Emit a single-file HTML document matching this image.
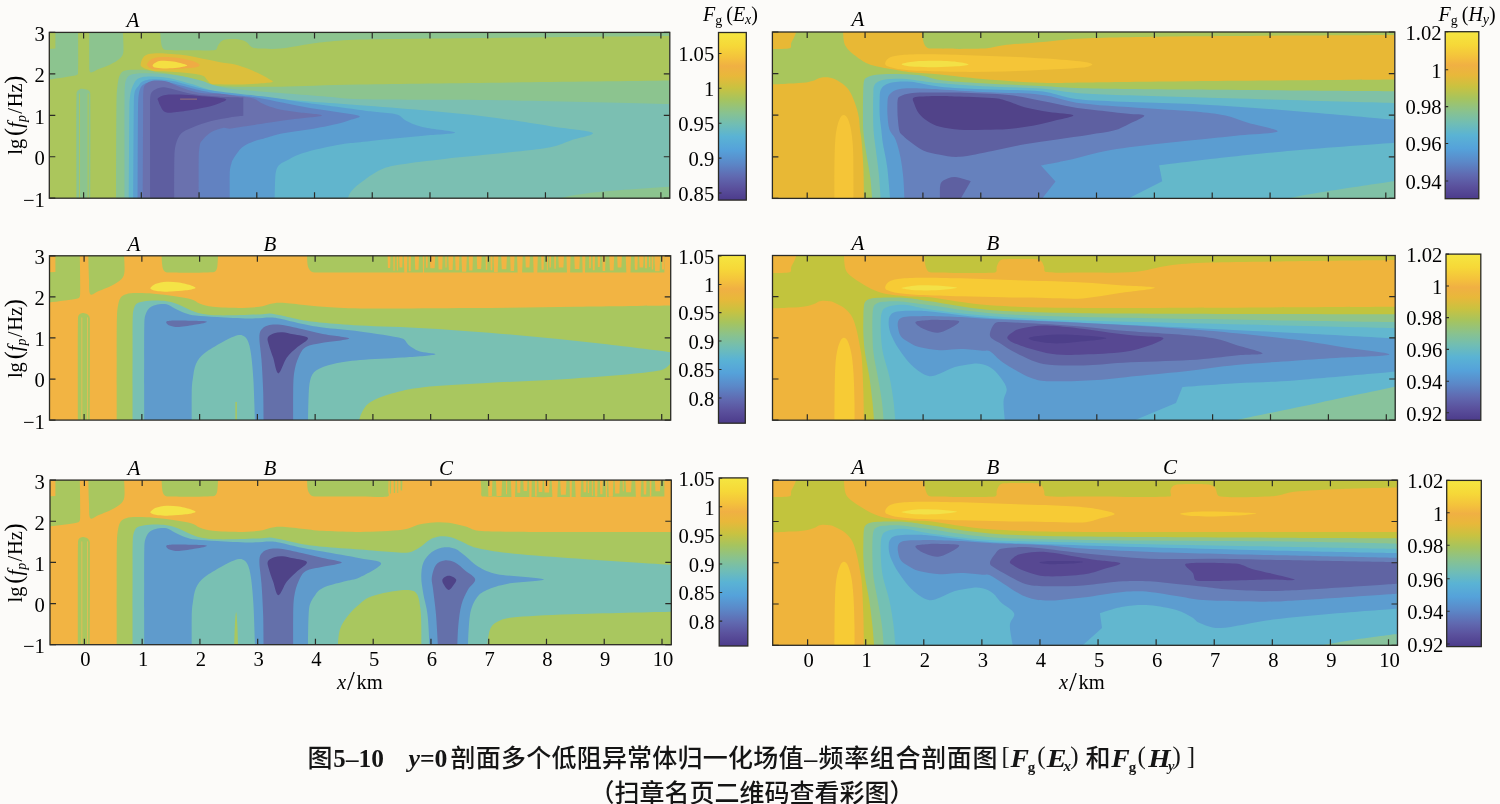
<!DOCTYPE html>
<html><head><meta charset="utf-8"><title>Figure 5-10</title>
<style>
html,body{margin:0;padding:0;background:#fcfbf9;}
body{width:1500px;height:804px;overflow:hidden;position:relative;}
svg{position:absolute;left:0;top:0;display:block;will-change:transform;}
</style></head><body>
<svg width="1500" height="804" viewBox="0 0 1500 804" font-family="'Liberation Serif', 'Times New Roman', serif">
<defs><linearGradient id="cbar" x1="0" y1="0" x2="0" y2="1"><stop offset="0.00" stop-color="#f5e640"/><stop offset="0.08" stop-color="#f6d838"/><stop offset="0.15" stop-color="#f4c23c"/><stop offset="0.20" stop-color="#f0b043"/><stop offset="0.26" stop-color="#e8b83a"/><stop offset="0.33" stop-color="#c9c240"/><stop offset="0.40" stop-color="#a6c45e"/><stop offset="0.48" stop-color="#88c290"/><stop offset="0.55" stop-color="#70bdb5"/><stop offset="0.62" stop-color="#5ab3d4"/><stop offset="0.70" stop-color="#55a2da"/><stop offset="0.78" stop-color="#5b88c8"/><stop offset="0.86" stop-color="#6069b0"/><stop offset="0.93" stop-color="#5a509c"/><stop offset="1.00" stop-color="#4c3b8b"/></linearGradient></defs>
<clipPath id="c_r1l"><rect x="49.30" y="32.40" width="620.50" height="165.80"/></clipPath>
<g clip-path="url(#c_r1l)">
<rect x="49.30" y="32.40" width="620.50" height="165.80" fill="#abc65c"/>
<g transform="translate(48 30) scale(0.211372)">
<path d="M35 -20L142 -20C142 -20 144 165.8 142 205C141.6 212 136.9 213.6 130 215C103 220.5 -20 238 -20 238L-20 92L35 88L35 -20Z" fill="#8cc48f"/>
<path d="M195 -20L352 -20C352 -20 359 74.2 357 100C355.6 117.5 350.3 124.5 340 135C329.7 145.5 311.7 154.7 295 163C278.3 171.3 255.8 178.8 240 185C224.2 191.2 207.5 205.8 200 200C192.5 194.2 195.5 172.6 195 150C194.2 113.3 195 -20 195 -20Z" fill="#8cc48f"/>
<path d="M135 800C135 800 132.5 386.7 135 300C135.3 288.8 144.2 283.5 150 280C155.8 276.5 163.3 278.2 170 279C176.7 279.8 185 281.5 190 285C195 288.5 199.8 291.9 200 300C201.7 385.8 200 800 200 800L135 800Z" fill="#8cc48f"/>
<path d="M149 300L149 800" fill="none" stroke="#abc65c" stroke-width="5"/>
<path d="M190 300L190 800" fill="none" stroke="#abc65c" stroke-width="5"/>
<path d="M530 -20C530 -20 531.3 23.3 533 40C534.7 56.7 535.5 70.8 540 80C544.5 89.2 548.8 93.7 560 95C583.3 97.7 641.7 96 680 96C718.3 96 769.2 99 790 95C802.1 92.7 799.7 79.2 805 72C810.3 64.8 814.5 56.7 822 52C829.5 47.3 836.9 45.1 850 44C863.8 42.8 890 42.7 905 45C920 47.3 930 51.8 940 58C950 64.2 955 77 965 82C975 87 984 87.3 1000 88C1022.5 89 1066.7 90.7 1100 88C1133.3 85.3 1166.7 77 1200 72C1233.3 67 1254.8 62.4 1300 58C1346 53.5 1396.6 46.9 1476 45C1626 41.3 1946 38.8 2200 36C2454 33.2 3000 28 3000 28L3000 -20L530 -20Z" fill="#8cc48f"/>
<path d="M322 820C322 820 322.3 426.7 324 330C324.7 289.3 328.5 260.8 332 240C334.8 223.4 339.5 213 345 205C350.5 197 355.8 194.8 365 192C374.2 189.2 384.2 188.3 400 188C417.5 187.7 446.7 187.7 470 190C493.3 192.3 518.3 198.3 540 202C561.7 205.7 580 208.2 600 212C620 215.8 640 219.5 660 225C680 230.5 701.7 238.8 720 245C738.3 251.2 746.4 259 770 262C800 265.8 845 267 900 268C955 269 1010 269.6 1100 268C1196 266.3 1306.8 261.1 1476 258C1659.3 254.7 1946 251.3 2200 248C2454 244.7 3000 238 3000 238L3000 820L322 820Z" fill="#8cc48f"/>
<path d="M362 820C362 820 361.7 423.3 362 330C362.1 298.5 362.2 277 364 260C365.6 245.1 368.3 236 373 228C377.7 220 383.3 215.7 392 212C400.7 208.3 412 207.2 425 206C438 204.8 450 204.7 470 205C490 205.3 520 206.2 545 208C570 209.8 597.5 212.7 620 216C642.5 219.3 660.8 223.7 680 228C699.2 232.3 719.2 237 735 242C750.8 247 756.4 252.5 775 258C794.2 263.7 820.8 271.3 850 276C879.2 280.7 908.3 282.3 950 286C991.7 289.7 1041.7 293.3 1100 298C1158.3 302.7 1237.3 309 1300 314C1362.7 319 1396.6 326.3 1476 328C1626 331.2 1946 329 2200 333C2454 337 3000 352 3000 352L3000 820L362 820Z" fill="#7bbfb2"/>
<path d="M2330 820C2330 820 2438.3 790.3 2500 780C2561.7 769.7 2616.7 765 2700 758C2783.3 751 3000 738 3000 738L3000 820L2330 820Z" fill="#8cc48f"/>
<path d="M1413 820C1413 820 1419.5 785.8 1430 770C1440.5 754.2 1452.9 742.4 1476 725C1500.3 706.7 1542.7 675 1576 660C1609.3 645 1630.2 642.6 1676 635C1726 626.7 1792.7 619.2 1876 610C1959.3 600.8 2092.7 589.2 2176 580C2259.3 570.8 2326 564.7 2376 555C2422.5 546 2442.7 533.5 2476 522C2509.3 510.5 2592.7 497.2 2576 486C2559.3 474.8 2459.3 467.7 2376 455C2292.7 442.3 2176 422.5 2076 410C1976 397.5 1876 389 1776 380C1676 371 1563.7 362.7 1476 356C1388.3 349.3 1321 345.7 1250 340C1179 334.3 1108.3 327.7 1050 322C991.7 316.3 941.7 311 900 306C858.3 301 826.7 297 800 292C773.3 287 760 282 740 276C720 270 701.7 262.7 680 256C658.3 249.3 632.5 241.3 610 236C587.5 230.7 565 226.7 545 224C525 221.3 506.7 220.2 490 220C473.3 219.8 457 220.3 445 223C433 225.7 425.2 229.5 418 236C410.8 242.5 406.7 251.3 402 262C397.3 272.7 392.8 283.7 390 300C387.2 316.3 385.4 332.9 385 360C383.7 446.7 382 820 382 820L1413 820Z" fill="#61b5cd"/>
<path d="M1072 820C1072 820 1073.5 726.7 1075 700C1076 681.8 1077.7 670.5 1081 660C1084.3 649.5 1087.7 643.7 1095 637C1102.3 630.3 1111.3 627.2 1125 620C1139.8 612.2 1159.5 599.3 1184 590C1208.5 580.7 1237.7 572.3 1272 564C1306.3 555.7 1356 545.5 1390 540C1424 534.5 1437.3 535.1 1476 531C1515.3 526.8 1576 520.2 1626 515C1676 509.8 1726 505 1776 500C1826 495 1926 491.7 1926 485C1926 478.3 1814.3 469.2 1776 460C1738.6 451.1 1717 440 1696 430C1675 420 1673.5 407 1650 400C1626.5 393 1584 391.7 1555 388C1526 384.3 1511.5 382.6 1476 378C1433.5 372.5 1349.3 361.7 1300 355C1250.7 348.3 1221.7 344.2 1180 338C1138.3 331.8 1096.7 324 1050 318C1003.3 312 941.7 306.7 900 302C858.3 297.3 826.7 293.7 800 290C773.3 286.3 760 284.2 740 280C720 275.8 700 270.3 680 265C660 259.7 640 252.7 620 248C600 243.3 578.3 239.5 560 237C541.7 234.5 525 233.2 510 233C495 232.8 480.8 234 470 236C459.2 238 451.7 240.7 445 245C438.3 249.3 435.7 254.5 430 262C424.3 269.5 415 275.3 411 290C407 304.7 406.4 322.9 406 350C404.7 438.3 403 820 403 820L1072 820Z" fill="#5b9ed0"/>
<path d="M860 820C860 820 858.7 703.7 860 672C860.8 652.8 865 640.7 868 630C870.9 619.5 871.9 617 878 608C886.5 595.5 902.3 568.8 919 555C935.7 541.2 961.3 531.8 978 525C994.7 518.2 1000.5 518.9 1019 514C1041.5 508 1076.2 496.3 1113 489C1149.8 481.7 1197.8 477.3 1240 470C1282.2 462.7 1334.5 452.3 1366 445C1394.8 438.3 1411.2 432.3 1429 426C1446.8 419.7 1483.5 413.3 1473 407C1462.5 400.7 1404.8 394.3 1366 388C1327.2 381.7 1282.2 376.3 1240 369C1197.8 361.7 1155.2 352.3 1113 344C1070.8 335.7 1029 325.3 987 319C945 312.7 892.2 309.2 861 306C833.6 303.2 820.2 302.7 800 300C779.8 297.3 758.3 293.7 740 290C721.7 286.3 708.3 282.7 690 278C671.7 273.3 650 267 630 262C610 257 588.3 251 570 248C551.7 245 535.8 244 520 244C504.2 244 486.3 245.7 475 248C463.9 250.3 458.7 252.7 452 258C445.3 263.3 439.1 268.2 435 280C430.8 292 428 307.2 427 330C425.3 366.7 425.5 423.5 425 500C424.5 581.7 424 820 424 820L860 820Z" fill="#6282c1"/>
<path d="M713 820C713 820 712.2 645.8 713 600C713.5 575.2 715.7 557.5 718 545C719.8 535.3 720.5 532.5 727 525C735.8 514.8 753.8 494.3 771 484C788.2 473.7 815 465.8 830 463C843.8 460.4 847 467.9 861 467C876.7 466 895.6 461.4 924 457C955.5 452.2 1008 444.2 1050 438C1092 431.8 1135 425.7 1176 420C1217 414.3 1296 409.3 1296 404C1296 398.7 1211.7 393.3 1176 388C1140.3 382.7 1108.2 378.3 1082 372C1055.8 365.7 1036.8 357.8 1019 350C1001.2 342.2 990.8 330.7 975 325C959.2 319.3 943 319 924 316C905 313 881.7 309.5 861 307C840.3 304.5 819.2 302.2 800 301C780.8 299.8 761.8 301.2 746 300C730.2 298.8 718.7 296.7 705 294C691.3 291.3 677.7 288 664 284C650.3 280 635.3 274.8 623 270C610.7 265.2 601 259.5 590 255C579 250.5 568 245.7 557 243C546 240.3 535 239.3 524 239C513 238.7 500.7 238.7 491 241C481.3 243.3 472.5 246.8 466 253C459.5 259.2 453.4 265.2 452 278C449.3 302.5 450.4 345.1 450 400C449.3 490.3 448 820 448 820L713 820Z" fill="#6a71ae"/>
<path d="M597 820C597 820 596.7 646.7 598 600C598.8 572.8 599.7 558.3 605 540C610.3 521.7 617 503.2 630 490C643 476.8 659.3 470.8 683 461C706.7 451.2 742.5 438.8 772 431C801.5 423.2 834.7 418.2 860 414C885.3 409.8 924 406 924 406L924 319C924 319 893.2 318.3 880 318C866.8 317.7 860.3 317.8 845 317C829.7 316.2 807.8 314.3 788 313C768.2 311.7 747.3 311.5 726 309C704.7 306.5 680 302.2 660 298C640 293.8 623.2 288.3 606 284C588.8 279.7 570.7 273.7 557 272C543.3 270.3 534.3 271 524 274C513.7 277 501.7 283.2 495 290C488.3 296.8 485.3 302.8 484 315C482 333.3 483.1 361.7 483 400C482.8 484.2 483 820 483 820L597 820Z" fill="#5e5ea0"/>
<path d="M520 323C524.5 318.5 538.7 312 549 309C559.3 306 567 305.3 582 305C601.2 304.7 636.5 305.3 664 307C691.5 308.7 717.5 311.7 747 315C776.5 318.3 830.8 321.5 841 327C851.2 332.5 823.7 341.5 808 348C792.3 354.5 771 360.5 747 366C723 371.5 691.5 376.8 664 381C636.5 385.2 601.2 390.3 582 391C566.9 391.5 557.3 390.2 549 385C540.7 379.8 536.5 368.2 532 360C527.5 351.8 524 342.2 522 336C520.2 330.4 515.8 327.2 520 323Z" fill="#54438e"/>
<path d="M625 327L705 327" fill="none" stroke="#c4906e" stroke-width="3"/>
<path d="M438 163C438.7 155.8 442.7 140.2 449 132C455.3 123.8 463.3 117.7 476 114C488.7 110.3 507.3 110 525 110C542.7 110 559.8 112.2 582 114C604.2 115.8 632.8 117.3 658 121C683.2 124.7 707.8 131 733 136C758.2 141 783.7 146.5 809 151C834.3 155.5 861.5 157.3 885 163C908.5 168.7 929.2 176.8 950 185C970.8 193.2 994.2 204.2 1010 212C1025.8 219.8 1036.3 226.3 1045 232C1053.3 237.4 1069.5 242.5 1062 246C1054.5 249.5 1027 251 1000 253C973 255 933.3 257.3 900 258C866.7 258.7 821.5 257.7 800 257C786.9 256.6 779 257.7 771 254C763 250.3 758.3 241.3 752 235C745.7 228.7 744.5 219.8 733 216C717.3 210.8 683.2 207.2 658 204C632.8 200.8 607.3 198.5 582 197C556.7 195.5 525 196.8 506 195C488.5 193.3 478.2 189.3 468 186C457.8 182.7 450 178.8 445 175C440 171.2 437.4 169.2 438 163Z" fill="#dcbf3c"/>
<path d="M468 163C470.5 158 477.5 145.7 487 140C496.5 134.3 509.2 130.8 525 129C540.8 127.2 563 127.8 582 129C601 130.2 620 132.3 639 136C658 139.7 682.8 146 696 151C707.2 155.3 718 161.5 718 166C718 170.5 707.1 175.8 696 178C682.8 180.7 658 180.7 639 182C620 183.3 601 185.2 582 186C563 186.8 540.8 187.7 525 187C509.2 186.3 495.8 184.8 487 182C478.8 179.4 475.2 173.2 472 170C469.4 167.4 466.4 166.2 468 163Z" fill="#efab44"/>
<path d="M495 167C496.3 162.5 505.8 154.5 514 151C522.2 147.5 532.7 146.5 544 146C555.3 145.5 569.3 146.5 582 148C594.7 149.5 607.3 151.8 620 155C632.7 158.2 654.8 163.8 658 167C661.2 170.2 647.9 172 639 174C629.5 176.2 616.8 178.7 601 180C585.2 181.3 559.8 182.3 544 182C528.2 181.7 514.2 180.5 506 178C499.3 176 493.7 171.5 495 167Z" fill="#f4df42"/>
</g>
</g>
<rect x="49.30" y="32.40" width="620.50" height="165.80" fill="none" stroke="#2b2b26" stroke-width="1.3"/>
<path d="M83.60 32.40v6M83.60 198.20v-6M141.33 32.40v6M141.33 198.20v-6M199.06 32.40v6M199.06 198.20v-6M256.79 32.40v6M256.79 198.20v-6M314.52 32.40v6M314.52 198.20v-6M372.25 32.40v6M372.25 198.20v-6M429.98 32.40v6M429.98 198.20v-6M487.71 32.40v6M487.71 198.20v-6M545.44 32.40v6M545.44 198.20v-6M603.17 32.40v6M603.17 198.20v-6M660.90 32.40v6M660.90 198.20v-6M49.30 32.40h6M669.80 32.40h-6M49.30 73.85h6M669.80 73.85h-6M49.30 115.30h6M669.80 115.30h-6M49.30 156.75h6M669.80 156.75h-6M49.30 198.20h6M669.80 198.20h-6" stroke="#2b2b26" stroke-width="1.2" fill="none"/>
<clipPath id="c_r2l"><rect x="49.50" y="255.80" width="621.20" height="164.30"/></clipPath>
<g clip-path="url(#c_r2l)">
<rect x="49.50" y="255.80" width="621.20" height="164.30" fill="#f2b443"/>
<g transform="translate(48 254) scale(0.211372)">
<path d="M35 -20L150 -20C150 -20 153.7 151.7 152 190C151.5 200.5 150.2 207.5 140 210C111.3 217 -20 232 -20 232L-20 88L35 85L35 -20Z" fill="#a9c75f"/>
<path d="M190 -20L358 -20C358 -20 363.7 57 362 80C360.7 98.2 358.3 106.3 348 118C337.7 129.7 318 140.5 300 150C282 159.5 256.7 168.3 240 175C223.3 181.7 207.7 199.2 200 190C192.3 180.8 195.5 151.6 194 120C192.3 85 190 -20 190 -20Z" fill="#a9c75f"/>
<path d="M142 820C142 820 139.8 389.7 142 300C142.2 290 150 285.3 155 282C160 278.7 166.2 279 172 280C177.8 281 185.7 283.8 190 288C194.3 292.2 197.9 296.5 198 305C199.3 393.7 198 820 198 820L142 820Z" fill="#a9c75f"/>
<path d="M160 300L160 800" fill="none" stroke="#e9bd55" stroke-width="4"/>
<path d="M187 300L187 800" fill="none" stroke="#e9bd55" stroke-width="4"/>
<path d="M536 -20C536 -20 538 33.7 540 50C541.6 63 543 71.7 548 78C553 84.3 559.1 87.6 570 88C608.7 89.3 742.2 88.3 780 86C789.3 85.4 793.3 80 797 74C800.7 68 800.9 61 802 50C803.5 34.3 806 -20 806 -20L536 -20Z" fill="#a9c75f"/>
<path d="M1225 -20C1225 -20 1225.5 33.7 1228 50C1230.1 63.6 1234.3 71.8 1240 78C1245.7 84.2 1251.3 86.5 1262 87C1301.3 88.7 1379.7 87.9 1476 88C1751.7 88.2 2916 88 2916 88L2916 -20L1225 -20Z" fill="#a9c75f"/>
<path d="M1606 -20L1621.1 -20L1618.8 66.5L1608.3 66.5L1606 -20Z" fill="#f2b443"/>
<path d="M1633.2 -20L1641.2 -20L1640 79L1634.4 79L1633.2 -20Z" fill="#f2b443"/>
<path d="M1649.3 -20L1657 -20L1655.8 78L1650.5 78L1649.3 -20Z" fill="#f2b443"/>
<path d="M1660.5 -20L1678.6 -20L1675.9 63.9L1663.2 63.9L1660.5 -20Z" fill="#f2b443"/>
<path d="M1682.9 -20L1700.8 -20L1698.1 88.4L1685.6 88.4L1682.9 -20Z" fill="#f2b443"/>
<path d="M1705.5 -20L1717.8 -20L1715.9 81.9L1707.3 81.9L1705.5 -20Z" fill="#f2b443"/>
<path d="M1734 -20L1756.2 -20L1752.9 74.5L1737.4 74.5L1734 -20Z" fill="#f2b443"/>
<path d="M1772.9 -20L1780.2 -20L1779.1 89.4L1773.9 89.4L1772.9 -20Z" fill="#f2b443"/>
<path d="M1787.2 -20L1797.3 -20L1795.7 65.4L1788.7 65.4L1787.2 -20Z" fill="#f2b443"/>
<path d="M1804.6 -20L1833.4 -20L1829.1 67.5L1808.9 67.5L1804.6 -20Z" fill="#f2b443"/>
<path d="M1844.6 -20L1868.5 -20L1864.9 73.7L1848.1 73.7L1844.6 -20Z" fill="#f2b443"/>
<path d="M1879.1 -20L1886.9 -20L1885.7 63.5L1880.3 63.5L1879.1 -20Z" fill="#f2b443"/>
<path d="M1892.8 -20L1917.8 -20L1914.1 75.5L1896.5 75.5L1892.8 -20Z" fill="#f2b443"/>
<path d="M1925.2 -20L1947.6 -20L1944.2 76.3L1928.6 76.3L1925.2 -20Z" fill="#f2b443"/>
<path d="M1954.8 -20L1983 -20L1978.8 84.2L1959 84.2L1954.8 -20Z" fill="#f2b443"/>
<path d="M1989.5 -20L2011.5 -20L2008.2 78.6L1992.8 78.6L1989.5 -20Z" fill="#f2b443"/>
<path d="M2026.8 -20L2053.2 -20L2049.3 70.9L2030.8 70.9L2026.8 -20Z" fill="#f2b443"/>
<path d="M2069.9 -20L2079.3 -20L2077.9 75.1L2071.3 75.1L2069.9 -20Z" fill="#f2b443"/>
<path d="M2092.9 -20L2103.1 -20L2101.6 77.4L2094.4 77.4L2092.9 -20Z" fill="#f2b443"/>
<path d="M2106.7 -20L2131.4 -20L2127.7 86.4L2110.4 86.4L2106.7 -20Z" fill="#f2b443"/>
<path d="M2142.4 -20L2172.9 -20L2168.3 71.8L2147 71.8L2142.4 -20Z" fill="#f2b443"/>
<path d="M2185.6 -20L2208.3 -20L2204.9 80.4L2189 80.4L2185.6 -20Z" fill="#f2b443"/>
<path d="M2217.7 -20L2247.2 -20L2242.8 92.2L2222.1 92.2L2217.7 -20Z" fill="#f2b443"/>
<path d="M2256.8 -20L2281.4 -20L2277.7 63.6L2260.5 63.6L2256.8 -20Z" fill="#f2b443"/>
<path d="M2294.2 -20L2318.4 -20L2314.7 93.8L2297.9 93.8L2294.2 -20Z" fill="#f2b443"/>
<path d="M2332.9 -20L2346.8 -20L2344.7 74.1L2335 74.1L2332.9 -20Z" fill="#f2b443"/>
<path d="M2359.2 -20L2365.8 -20L2364.8 76.6L2360.2 76.6L2359.2 -20Z" fill="#f2b443"/>
<path d="M2371.2 -20L2380.5 -20L2379.1 63.5L2372.6 63.5L2371.2 -20Z" fill="#f2b443"/>
<path d="M2394.2 -20L2403.8 -20L2402.4 69.6L2395.7 69.6L2394.2 -20Z" fill="#f2b443"/>
<path d="M2412.3 -20L2442.7 -20L2438.2 64.2L2416.9 64.2L2412.3 -20Z" fill="#f2b443"/>
<path d="M2452 -20L2473.4 -20L2470.2 90.2L2455.2 90.2L2452 -20Z" fill="#f2b443"/>
<path d="M2487.9 -20L2518 -20L2513.5 70.6L2492.4 70.6L2487.9 -20Z" fill="#f2b443"/>
<path d="M2526.9 -20L2542.9 -20L2540.5 90.2L2529.3 90.2L2526.9 -20Z" fill="#f2b443"/>
<path d="M2559.3 -20L2569.5 -20L2568 67.3L2560.8 67.3L2559.3 -20Z" fill="#f2b443"/>
<path d="M2575.8 -20L2588.3 -20L2586.4 77.3L2577.7 77.3L2575.8 -20Z" fill="#f2b443"/>
<path d="M2599.6 -20L2612.9 -20L2610.9 61.7L2601.6 61.7L2599.6 -20Z" fill="#f2b443"/>
<path d="M2621.8 -20L2638.1 -20L2635.7 79.9L2624.2 79.9L2621.8 -20Z" fill="#f2b443"/>
<path d="M2654.5 -20L2679.8 -20L2676 78.3L2658.3 78.3L2654.5 -20Z" fill="#f2b443"/>
<path d="M2691.5 -20L2716.4 -20L2712.6 63.3L2695.2 63.3L2691.5 -20Z" fill="#f2b443"/>
<path d="M2732 -20L2759.8 -20L2755.6 89.9L2736.2 89.9L2732 -20Z" fill="#f2b443"/>
<path d="M2774 -20L2791 -20L2788.4 74.5L2776.5 74.5L2774 -20Z" fill="#f2b443"/>
<path d="M2795.4 -20L2819.2 -20L2815.6 63.6L2799 63.6L2795.4 -20Z" fill="#f2b443"/>
<path d="M2823.1 -20L2835 -20L2833.2 66.9L2824.9 66.9L2823.1 -20Z" fill="#f2b443"/>
<path d="M2842.7 -20L2850.2 -20L2849.1 61.6L2843.9 61.6L2842.7 -20Z" fill="#f2b443"/>
<path d="M2855.3 -20L2864.2 -20L2862.8 73.4L2856.7 73.4L2855.3 -20Z" fill="#f2b443"/>
<path d="M2867.5 -20L2898 -20L2893.4 81.5L2872.1 81.5L2867.5 -20Z" fill="#f2b443"/>
<path d="M2903.1 -20L2916.1 -20L2914.2 72.9L2905 72.9L2903.1 -20Z" fill="#f2b443"/>
<path d="M485 160C488.3 155.5 497.5 145.8 510 141C522.5 136.2 541.7 132 560 131C578.3 130 600 131.8 620 135C640 138.2 667.2 145.5 680 150C688.8 153.1 702 158.3 697 162C692 165.7 669.5 169.3 650 172C630.5 174.7 601.7 177.3 580 178C558.3 178.7 535 177.7 520 176C506.1 174.5 495.8 170.7 490 168C486.1 166.2 482.5 163.4 485 160Z" fill="#f4e346"/>
<path d="M325 820C325 820 324.8 586.7 325 500C325.2 413.3 324.8 343.3 326 300C326.7 272.9 328.8 255.8 332 240C335.2 224.2 338.7 213.3 345 205C351.3 196.7 357.5 193.3 370 190C382.5 186.7 398.3 185.3 420 185C441.7 184.7 470 185.5 500 188C530 190.5 570 195.5 600 200C630 204.5 660 209.2 680 215C699.3 220.6 703.3 229.2 720 235C736.7 240.8 752.3 246.9 780 250C810 253.3 863.3 255 900 255C936.7 255 975 253 1000 250C1023.1 247.2 1033.3 240.2 1050 237C1066.7 233.8 1077.3 230.5 1100 231C1125 231.5 1166.7 236.8 1200 240C1233.3 243.2 1254.9 247.1 1300 250C1346 253 1396.7 257.3 1476 258C1592.7 259 1829.3 257.3 2000 256C2170.7 254.7 2340 252 2500 250C2660 248 2960 244 2960 244L2960 820L325 820Z" fill="#a9c75f"/>
<path d="M400 820C400 820 399.8 588.3 400 500C400.2 411.7 399.3 332 401 290C401.8 270.7 405.2 258 410 248C414.8 238 418.7 234.4 430 230C441.7 225.5 458.3 222.2 480 221C501.7 219.8 536.7 219.8 560 223C583.3 226.2 596.7 231.3 620 240C643.3 248.7 670 266.7 700 275C730 283.3 754.5 288.3 800 290C850 291.8 958.3 287.5 1000 286C1022.6 285.2 1033.3 280.3 1050 281C1066.7 281.7 1077.6 285.4 1100 290C1125 295.2 1166.7 306.2 1200 312C1233.3 317.8 1254.8 320.7 1300 325C1346 329.3 1396.7 333.7 1476 338C1559.3 342.5 1679.3 344.7 1800 352C1920.7 359.3 2066.7 370.3 2200 382C2333.3 393.7 2473.3 408 2600 422C2726.7 436 2960 466 2960 466L2960 495C2960 495 2935.9 542.9 2900 550C2819.3 565.8 2613.3 580 2476 590C2338.7 600 2192.7 603.3 2076 610C1959.3 616.7 1851 621.7 1776 630C1707.6 637.6 1667.7 648.3 1626 660C1584.3 671.7 1549.5 685 1526 700C1502.5 715 1495.7 730 1485 750C1474.3 770 1462 820 1462 820L400 820Z" fill="#79c0b3"/>
<path d="M455 820C455 820 454.8 583.3 455 500C455.2 419 454.8 355.8 456 320C456.5 304 458 295.7 462 285C466 274.3 472 263.3 480 256C488 248.7 496.7 244 510 241C523.3 238 545 235.2 560 238C575 240.8 585 251 600 258C615 265 633.3 274.5 650 280C666.7 285.5 677.1 288.3 700 291C725 294 758.3 295.7 800 298C841.7 300.3 908.3 304.7 950 305C991.7 305.3 1025 299.8 1050 300C1072.7 300.2 1077.8 301.6 1100 306C1125 311 1166.7 323 1200 330C1233.3 337 1254.7 341.9 1300 348C1346 354.2 1413.3 358.3 1476 367C1538.7 375.7 1637.7 389.5 1676 400C1694.4 405 1692.7 420 1706 430C1719.3 440 1735.2 452.5 1756 460C1776.8 467.5 1844.3 470 1831 475C1817.7 480 1735.2 485.5 1676 490C1616.8 494.5 1530.3 497 1476 502C1421.7 507 1384.3 512 1350 520C1315.7 528 1288.3 536.7 1270 550C1251.7 563.3 1246.3 575 1240 600C1233.7 625 1233.7 663.3 1232 700C1230.3 736.7 1230 820 1230 820L455 820Z" fill="#5f9bcc"/>
<path d="M680 820C680 820 679.2 688.3 680 650C680.6 622.9 681.7 611.7 685 590C688.3 568.3 690.8 540 700 520C709.2 500 720 486.7 740 470C760 453.3 796.7 433.3 820 420C843.3 406.7 863.3 395.8 880 390C896.7 384.2 909.2 381.7 920 385C930.8 388.3 938.3 395.8 945 410C951.7 424.2 956.1 442.4 960 470C964.5 501.7 968.7 541.7 972 600C975.3 658.3 980 820 980 820L680 820Z" fill="#79c0b3"/>
<path d="M890 700L890 800" fill="none" stroke="#a9c75f" stroke-width="7"/>
<path d="M560 320C564.2 316.2 581.9 315.6 600 315C620 314.3 654.7 315.2 680 316C705.3 316.8 748.7 317 752 320C755.3 323 722 329.8 700 334C678 338.2 640.8 344.3 620 345C599.5 345.7 585 342.2 575 338C565.3 333.9 555.8 323.8 560 320Z" fill="#6470aa"/>
<path d="M1020 820C1020 820 1019.7 703.3 1018 650C1016.3 596.7 1013 541.7 1010 500C1007 458.3 1000.3 423.3 1000 400C999.7 381.6 1001.3 370.3 1008 360C1014.7 349.7 1024.7 342.2 1040 338C1055.3 333.8 1073.3 332.2 1100 335C1126.7 337.8 1166.7 347.8 1200 355C1233.3 362.2 1262.5 370.5 1300 378C1337.5 385.5 1425 393 1425 400C1425 407 1334.2 413.3 1300 420C1265.8 426.7 1239.2 428.3 1220 440C1200.8 451.7 1194.2 470 1185 490C1175.8 510 1169.2 533.3 1165 560C1160.8 586.7 1160.8 609.4 1160 650C1159.2 693.3 1160 820 1160 820L1020 820Z" fill="#6470aa"/>
<path d="M1040 395C1044.2 385.8 1058.3 379.2 1070 375C1081.7 370.8 1095 369.2 1110 370C1125 370.8 1140 375.3 1160 380C1180 384.7 1226.7 388 1230 398C1233.3 408 1196.7 424.7 1180 440C1163.3 455.3 1145 469.2 1130 490C1115 510.8 1100.8 565 1090 565C1079.2 565 1072.5 512.5 1065 490C1057.5 467.5 1049.2 445.8 1045 430C1041 414.6 1035.8 404.2 1040 395Z" fill="#4f4388"/>
</g>
</g>
<rect x="49.50" y="255.80" width="621.20" height="164.30" fill="none" stroke="#2b2b26" stroke-width="1.3"/>
<path d="M84.10 255.80v6M84.10 420.10v-6M141.86 255.80v6M141.86 420.10v-6M199.62 255.80v6M199.62 420.10v-6M257.38 255.80v6M257.38 420.10v-6M315.14 255.80v6M315.14 420.10v-6M372.90 255.80v6M372.90 420.10v-6M430.66 255.80v6M430.66 420.10v-6M488.42 255.80v6M488.42 420.10v-6M546.18 255.80v6M546.18 420.10v-6M603.94 255.80v6M603.94 420.10v-6M661.70 255.80v6M661.70 420.10v-6M49.50 255.80h6M670.70 255.80h-6M49.50 296.88h6M670.70 296.88h-6M49.50 337.95h6M670.70 337.95h-6M49.50 379.03h6M670.70 379.03h-6M49.50 420.10h6M670.70 420.10h-6" stroke="#2b2b26" stroke-width="1.2" fill="none"/>
<clipPath id="c_r3l"><rect x="50.00" y="480.10" width="621.30" height="164.60"/></clipPath>
<g clip-path="url(#c_r3l)">
<rect x="50.00" y="480.10" width="621.30" height="164.60" fill="#f2b443"/>
<g transform="translate(48 478) scale(0.211372)">
<path d="M35 -20L150 -20C150 -20 153.7 151.7 152 190C151.5 200.5 150.2 207.5 140 210C111.3 217 -20 232 -20 232L-20 88L35 85L35 -20Z" fill="#a9c75f"/>
<path d="M190 -20L358 -20C358 -20 363.7 57 362 80C360.7 98.2 358.3 106.3 348 118C337.7 129.7 318 140.5 300 150C282 159.5 256.7 168.3 240 175C223.3 181.7 207.7 199.2 200 190C192.3 180.8 195.5 151.6 194 120C192.3 85 190 -20 190 -20Z" fill="#a9c75f"/>
<path d="M142 820C142 820 139.8 389.7 142 300C142.2 290 150 285.3 155 282C160 278.7 166.2 279 172 280C177.8 281 185.7 283.8 190 288C194.3 292.2 197.9 296.5 198 305C199.3 393.7 198 820 198 820L142 820Z" fill="#a9c75f"/>
<path d="M160 300L160 800" fill="none" stroke="#e9bd55" stroke-width="4"/>
<path d="M187 300L187 800" fill="none" stroke="#e9bd55" stroke-width="4"/>
<path d="M536 -20C536 -20 538 33.7 540 50C541.6 63 543 71.7 548 78C553 84.3 559.1 87.6 570 88C608.7 89.3 742.2 88.3 780 86C789.3 85.4 793.3 80 797 74C800.7 68 800.9 61 802 50C803.5 34.3 806 -20 806 -20L536 -20Z" fill="#a9c75f"/>
<path d="M1225 -20C1225 -20 1225.5 33.7 1228 50C1230.1 63.6 1234.3 71.8 1240 78C1245.7 84.2 1251.3 86.5 1262 87C1301.3 88.7 1418.7 87.8 1476 88C1533.3 88.2 1583.7 92.7 1606 88C1618.5 85.4 1609.3 72.7 1610 60C1611 42 1612 -20 1612 -20L1225 -20Z" fill="#a9c75f"/>
<path d="M2046 -20C2046 -20 2047.7 32 2050 50C2052.3 67.5 2042.3 87.2 2060 88C2204.3 94.3 2916 88 2916 88L2916 -20L2046 -20Z" fill="#a9c75f"/>
<path d="M1616 -20L1623.6 -20L1622.5 72.8L1617.1 72.8L1616 -20Z" fill="#a9c75f"/>
<path d="M1635.1 -20L1642.8 -20L1641.7 71.2L1636.2 71.2L1635.1 -20Z" fill="#a9c75f"/>
<path d="M1651.9 -20L1657.4 -20L1656.6 71.4L1652.7 71.4L1651.9 -20Z" fill="#a9c75f"/>
<path d="M1666.8 -20L1677.2 -20L1675.6 58.8L1668.4 58.8L1666.8 -20Z" fill="#a9c75f"/>
<path d="M2080 -20L2103.4 -20L2099.9 85.6L2083.5 85.6L2080 -20Z" fill="#f2b443"/>
<path d="M2117.6 -20L2150 -20L2145.1 85.6L2122.4 85.6L2117.6 -20Z" fill="#f2b443"/>
<path d="M2165.9 -20L2172.7 -20L2171.7 76.7L2166.9 76.7L2165.9 -20Z" fill="#f2b443"/>
<path d="M2188.9 -20L2213.1 -20L2209.4 90.8L2192.5 90.8L2188.9 -20Z" fill="#f2b443"/>
<path d="M2217.7 -20L2236.8 -20L2233.9 69.6L2220.5 69.6L2217.7 -20Z" fill="#f2b443"/>
<path d="M2247.4 -20L2269.5 -20L2266.2 62L2250.7 62L2247.4 -20Z" fill="#f2b443"/>
<path d="M2275.5 -20L2289.3 -20L2287.3 91.3L2277.6 91.3L2275.5 -20Z" fill="#f2b443"/>
<path d="M2303 -20L2313.5 -20L2311.9 87.4L2304.6 87.4L2303 -20Z" fill="#f2b443"/>
<path d="M2318.5 -20L2341.7 -20L2338.3 65.7L2322 65.7L2318.5 -20Z" fill="#f2b443"/>
<path d="M2344.8 -20L2375.2 -20L2370.6 68.4L2349.3 68.4L2344.8 -20Z" fill="#f2b443"/>
<path d="M2381.2 -20L2414.7 -20L2409.7 89.9L2386.2 89.9L2381.2 -20Z" fill="#f2b443"/>
<path d="M2421.7 -20L2454.7 -20L2449.7 79.1L2426.7 79.1L2421.7 -20Z" fill="#f2b443"/>
<path d="M2467.2 -20L2478.9 -20L2477.1 92.1L2468.9 92.1L2467.2 -20Z" fill="#f2b443"/>
<path d="M2491.6 -20L2524.6 -20L2519.7 90.6L2496.5 90.6L2491.6 -20Z" fill="#f2b443"/>
<path d="M2531.8 -20L2547.9 -20L2545.5 67L2534.2 67L2531.8 -20Z" fill="#f2b443"/>
<path d="M2553 -20L2560.8 -20L2559.6 71.4L2554.1 71.4L2553 -20Z" fill="#f2b443"/>
<path d="M2572.2 -20L2578.3 -20L2577.4 83.6L2573.1 83.6L2572.2 -20Z" fill="#f2b443"/>
<path d="M2586.1 -20L2600.7 -20L2598.5 88.1L2588.3 88.1L2586.1 -20Z" fill="#f2b443"/>
<path d="M2610.5 -20L2625.3 -20L2623.1 77.2L2612.7 77.2L2610.5 -20Z" fill="#f2b443"/>
<path d="M2638.2 -20L2645.8 -20L2644.6 93.2L2639.3 93.2L2638.2 -20Z" fill="#f2b443"/>
<path d="M2649.1 -20L2676.1 -20L2672 89L2653.1 89L2649.1 -20Z" fill="#f2b443"/>
<path d="M2679.3 -20L2707.4 -20L2703.2 73.5L2683.5 73.5L2679.3 -20Z" fill="#f2b443"/>
<path d="M2718.5 -20L2724.7 -20L2723.8 63.1L2719.4 63.1L2718.5 -20Z" fill="#f2b443"/>
<path d="M2730.3 -20L2763 -20L2758.1 68L2735.2 68L2730.3 -20Z" fill="#f2b443"/>
<path d="M2776.6 -20L2808.6 -20L2803.8 92.1L2781.4 92.1L2776.6 -20Z" fill="#f2b443"/>
<path d="M2816.5 -20L2832.4 -20L2830 78.6L2818.8 78.6L2816.5 -20Z" fill="#f2b443"/>
<path d="M2846.2 -20L2855.3 -20L2853.9 85.8L2847.6 85.8L2846.2 -20Z" fill="#f2b443"/>
<path d="M2869.4 -20L2899.5 -20L2895 62.8L2873.9 62.8L2869.4 -20Z" fill="#f2b443"/>
<path d="M485 160C488.3 155.5 497.5 145.8 510 141C522.5 136.2 541.7 132 560 131C578.3 130 600 131.8 620 135C640 138.2 667.2 145.5 680 150C688.8 153.1 702 158.3 697 162C692 165.7 669.5 169.3 650 172C630.5 174.7 601.7 177.3 580 178C558.3 178.7 535 177.7 520 176C506.1 174.5 495.8 170.7 490 168C486.1 166.2 482.5 163.4 485 160Z" fill="#f4e346"/>
<path d="M325 820C325 820 324.8 586.7 325 500C325.2 413.3 324.8 343.3 326 300C326.7 272.9 328.8 255.8 332 240C335.2 224.2 338.7 213.3 345 205C351.3 196.7 357.5 193.3 370 190C382.5 186.7 398.3 185.3 420 185C441.7 184.7 470 185.5 500 188C530 190.5 570 195.5 600 200C630 204.5 660 209.2 680 215C699.3 220.6 703.3 229.2 720 235C736.7 240.8 752.3 246.9 780 250C810 253.3 863.3 255 900 255C936.7 255 975 253 1000 250C1023.1 247.2 1033.3 240.2 1050 237C1066.7 233.8 1077.3 230.5 1100 231C1125 231.5 1166.7 236.8 1200 240C1233.3 243.2 1254.8 247.5 1300 250C1346 252.5 1413.3 255.8 1476 255C1538.7 254.2 1629.3 250.8 1676 245C1713.4 240.3 1731 225.8 1756 220C1781 214.2 1802.7 211.3 1826 210C1849.3 208.7 1871 208.7 1896 212C1921 215.3 1952.7 223.7 1976 230C1999.3 236.3 2007.6 247.6 2036 250C2086 254.2 2168 254.4 2276 255C2430 255.8 2960 255 2960 255L2960 820L325 820Z" fill="#a9c75f"/>
<path d="M400 820C400 820 399.8 588.3 400 500C400.2 411.7 399.3 332 401 290C401.8 270.7 405.2 258 410 248C414.8 238 418.7 234.4 430 230C441.7 225.5 458.3 222.2 480 221C501.7 219.8 536.7 219.8 560 223C583.3 226.2 596.7 231.3 620 240C643.3 248.7 670 266.7 700 275C730 283.3 754.5 288.3 800 290C850 291.8 958.3 287.5 1000 286C1022.6 285.2 1033.3 280.3 1050 281C1066.7 281.7 1077.6 285.4 1100 290C1125 295.2 1166.7 306.2 1200 312C1233.3 317.8 1254.8 320.7 1300 325C1346 329.3 1421.7 333.8 1476 338C1530.3 342.2 1587.7 347.7 1626 350C1661.9 352.2 1684.3 355.3 1706 352C1727.7 348.7 1739.3 340 1756 330C1772.7 320 1789.3 301 1806 292C1822.7 283 1839.3 278 1856 276C1872.7 274 1889.3 276 1906 280C1922.7 284 1936 291.7 1956 300C1976 308.3 1992.8 321.7 2026 330C2062.7 339.2 2108 347.4 2176 355C2251 363.3 2345.3 370.5 2476 380C2606.7 389.5 2960 412 2960 412L2960 633C2960 633 2603.3 640.5 2476 645C2349.9 649.5 2254.3 654.2 2196 660C2163.4 663.3 2143.7 670 2126 680C2108.3 690 2098.1 697.2 2090 720C2081.7 743.3 2076 820 2076 820L400 820Z" fill="#79c0b3"/>
<path d="M455 820C455 820 454.8 583.3 455 500C455.2 419 454.8 355.8 456 320C456.5 304 458 295.7 462 285C466 274.3 472 263.3 480 256C488 248.7 496.7 244 510 241C523.3 238 545 235.2 560 238C575 240.8 585 251 600 258C615 265 633.3 274.5 650 280C666.7 285.5 677.1 288.3 700 291C725 294 758.3 295.7 800 298C841.7 300.3 908.3 304.7 950 305C991.7 305.3 1025 299.8 1050 300C1072.7 300.2 1077.8 301.6 1100 306C1125 311 1166.7 323 1200 330C1233.3 337 1255 339.8 1300 348C1346 356.3 1430 370.5 1476 380C1521.4 389.4 1576 390 1576 405C1576 420 1505.3 455.8 1476 470C1446.7 484.2 1429.3 481.7 1400 490C1370.7 498.3 1323.3 508.3 1300 520C1277.2 531.4 1270.8 543.3 1260 560C1249.2 576.7 1238.4 590.9 1235 620C1230 663.3 1230 820 1230 820L455 820Z" fill="#5f9bcc"/>
<path d="M680 820C680 820 679.2 688.3 680 650C680.6 622.9 681.7 611.7 685 590C688.3 568.3 690.8 540 700 520C709.2 500 720 486.7 740 470C760 453.3 796.7 433.3 820 420C843.3 406.7 863.3 395.8 880 390C896.7 384.2 909.2 381.7 920 385C930.8 388.3 938.3 395.8 945 410C951.7 424.2 956.1 442.4 960 470C964.5 501.7 968.7 541.7 972 600C975.3 658.3 980 820 980 820L680 820Z" fill="#79c0b3"/>
<path d="M880 820C880 820 882.3 730.8 884 700C885.6 670.7 888 635 890 635C892 635 894.4 670.7 896 700C897.7 730.8 900 820 900 820L880 820Z" fill="#a9c75f"/>
<path d="M560 320C564.2 316.2 581.9 315.6 600 315C620 314.3 654.7 315.2 680 316C705.3 316.8 748.7 317 752 320C755.3 323 722 329.8 700 334C678 338.2 640.8 344.3 620 345C599.5 345.7 585 342.2 575 338C565.3 333.9 555.8 323.8 560 320Z" fill="#6470aa"/>
<path d="M1020 820C1020 820 1019.7 703.3 1018 650C1016.3 596.7 1013 541.7 1010 500C1007 458.3 1000.3 423.3 1000 400C999.7 381.6 1001.3 370.3 1008 360C1014.7 349.7 1024.7 342.2 1040 338C1055.3 333.8 1073.3 332.2 1100 335C1126.7 337.8 1166.7 347.8 1200 355C1233.3 362.2 1268.3 370.5 1300 378C1331.7 385.5 1390 393 1390 400C1390 407 1328.3 413.3 1300 420C1271.7 426.7 1239.2 428.3 1220 440C1200.8 451.7 1194.2 470 1185 490C1175.8 510 1169.2 533.3 1165 560C1160.8 586.7 1160.8 609.4 1160 650C1159.2 693.3 1160 820 1160 820L1020 820Z" fill="#6470aa"/>
<path d="M1040 395C1044.2 385.8 1058.3 379.2 1070 375C1081.7 370.8 1095 369.2 1110 370C1125 370.8 1140.8 375.3 1160 380C1179.2 384.7 1221.7 388 1225 398C1228.3 408 1195.8 424.7 1180 440C1164.2 455.3 1145 470.8 1130 490C1115 509.2 1100.8 555 1090 555C1079.2 555 1072.5 510.8 1065 490C1057.5 469.2 1049.2 445.8 1045 430C1041 414.6 1035.8 404.2 1040 395Z" fill="#4f4388"/>
<path d="M1370 820C1370 820 1371.7 748.3 1380 720C1388.3 691.7 1404 670.8 1420 650C1436 629.2 1458.3 609.7 1476 595C1493.7 580.3 1501 571.7 1526 562C1551 552.3 1596 542.3 1626 537C1656 531.7 1686 527.8 1706 530C1726 532.2 1736.7 535 1746 550C1755.3 565 1758.7 595 1762 620C1765.3 645 1765.3 666.7 1766 700C1766.7 733.3 1766 820 1766 820L1370 820Z" fill="#a9c75f"/>
<path d="M1806 820C1806 820 1801 695 1796 650C1791 605 1781 580 1776 550C1771 520 1766 495 1766 470C1766 445 1767.7 420 1776 400C1784.3 380 1799.3 362 1816 350C1832.7 338 1857.7 330.5 1876 328C1894.3 325.5 1909.3 328 1926 335C1942.7 342 1957.7 355.8 1976 370C1994.3 384.2 2011 405.8 2036 420C2061 434.2 2083.3 446.7 2126 455C2177.7 465 2337.7 472.5 2346 480C2354.3 487.5 2221 491.7 2176 500C2131 508.3 2101 518.3 2076 530C2051 541.7 2039.3 550 2026 570C2012.7 590 2002.1 612 1996 650C1989.3 691.7 1986 820 1986 820L1806 820Z" fill="#5f9bcc"/>
<path d="M1846 820C1846 820 1840.2 700 1836 650C1831.8 600 1824.3 550 1821 520C1818.5 497.5 1813.5 488.3 1816 470C1818.5 451.7 1826 423.3 1836 410C1846 396.7 1861 391.7 1876 390C1891 388.3 1909.3 391.7 1926 400C1942.7 408.3 1960.2 426.7 1976 440C1991.8 453.3 2019.3 465 2021 480C2022.7 495 1996.8 510 1986 530C1975.2 550 1963.5 571.7 1956 600C1948.5 628.3 1944.3 663.3 1941 700C1937.7 736.7 1936 820 1936 820L1846 820Z" fill="#6470aa"/>
<path d="M1866 480C1869.3 472 1885.2 462 1896 462C1906.8 462 1927.7 472 1931 480C1934.3 488 1921.8 501.7 1916 510C1910.2 518.3 1902.7 530 1896 530C1889.3 530 1881 518.3 1876 510C1871 501.7 1862.7 488 1866 480Z" fill="#4f4388"/>
</g>
</g>
<rect x="50.00" y="480.10" width="621.30" height="164.60" fill="none" stroke="#2b2b26" stroke-width="1.3"/>
<path d="M84.40 480.10v6M84.40 644.70v-6M142.16 480.10v6M142.16 644.70v-6M199.92 480.10v6M199.92 644.70v-6M257.68 480.10v6M257.68 644.70v-6M315.44 480.10v6M315.44 644.70v-6M373.20 480.10v6M373.20 644.70v-6M430.96 480.10v6M430.96 644.70v-6M488.72 480.10v6M488.72 644.70v-6M546.48 480.10v6M546.48 644.70v-6M604.24 480.10v6M604.24 644.70v-6M662.00 480.10v6M662.00 644.70v-6M50.00 480.10h6M671.30 480.10h-6M50.00 521.25h6M671.30 521.25h-6M50.00 562.40h6M671.30 562.40h-6M50.00 603.55h6M671.30 603.55h-6M50.00 644.70h6M671.30 644.70h-6" stroke="#2b2b26" stroke-width="1.2" fill="none"/>
<clipPath id="c_r1r"><rect x="772.40" y="32.00" width="622.40" height="166.40"/></clipPath>
<g clip-path="url(#c_r1r)">
<rect x="772.40" y="32.00" width="622.40" height="166.40" fill="#e8b835"/>
<g transform="translate(771 30) scale(0.211372)">
<path d="M715 -20C715 -20 715.2 23.7 718 40C720.8 56.3 725 70 732 78C739 86 746.6 87.5 760 88C804.7 89.7 943.3 90.7 1000 88C1045.5 85.9 1054.7 77 1100 72C1150 66.5 1237.3 60.3 1300 55C1362.7 49.7 1396.6 42.8 1476 40C1592.7 35.8 1764.2 32.5 2000 30C2247.3 27.3 2960 24 2960 24L2960 -20L715 -20Z" fill="#a9c65c"/>
<path d="M540 158C540.7 151.7 546 140.2 556 134C566 127.8 579.5 123.7 600 121C624 117.8 654.9 115.5 700 115C750 114.5 833.3 116.3 900 118C966.7 119.7 1033.3 122.2 1100 125C1166.7 127.8 1237.3 130.8 1300 135C1362.7 139.2 1439.3 145.3 1476 150C1496.5 152.6 1520 158.3 1520 163C1520 167.7 1496.8 175.6 1476 178C1439.3 182.2 1362.7 185 1300 188C1237.3 191 1166.7 194.3 1100 196C1033.3 197.7 966.7 198.5 900 198C833.3 197.5 750 195.3 700 193C654.9 190.9 624.7 187.5 600 184C578 180.9 562 176.3 552 172C544.4 168.7 539.3 164.3 540 158Z" fill="#f5c537"/>
<path d="M620 160C628.3 156.8 653.3 151.3 680 149C706.7 146.7 746.7 145.7 780 146C813.3 146.3 854.2 148.2 880 151C905.2 153.8 935 159.5 935 163C935 166.5 905 169.9 880 172C854.2 174.2 813.3 175.7 780 176C746.7 176.3 705 175.3 680 174C657.4 172.8 640 170.3 630 168C624.4 166.7 614.6 162 620 160Z" fill="#f3e146"/>
<path d="M300 820C300 820 299.3 700 300 650C300.7 600 301.5 553.3 304 520C306.4 488.2 310.7 468 315 450C319.3 432.1 325 420 330 412C334.3 405.1 339.7 401 345 402C350.3 403 357.4 408.5 362 418C367.5 429.3 373.7 446.3 378 470C382.3 493.7 386 521.7 388 560C390 598.3 389.7 656.7 390 700C390.3 743.3 390 820 390 820L300 820Z" fill="#f5c537"/>
<path d="M130 -20L340 -20C340 -20 341 24.2 343 40C345 55.8 346.2 64.2 352 75C357.8 85.8 365.5 93.8 378 105C390.5 116.2 414 133.2 427 142C439.3 150.4 444.3 153.2 456 158C467.7 162.8 478.2 166.6 497 171C517.7 175.8 552.5 182.2 580 187C607.5 191.8 625.3 196 662 200C698.7 204 743.7 205.7 800 211C856.3 216.3 921.2 225.5 1000 232C1078.8 238.5 1193.7 247.3 1273 250C1352.3 252.7 1384.7 249 1476 248C1597.2 246.7 1764.2 244.2 2000 242C2247.3 239.7 2960 234 2960 234L2960 820L440 820C440 820 439 700 437 650C435 600 430.7 549.7 428 520C426 498.3 423.2 490.3 421 472C418.8 453.7 418.8 430.7 415 410C411.2 389.3 404.2 366.3 398 348C391.8 329.7 385.2 313.3 378 300C370.8 286.7 364.7 277.7 355 268C345.3 258.3 332.5 249 320 242C307.5 235 294.2 228.7 280 226C265.8 223.3 248.3 223.7 235 226C221.7 228.3 214.2 236 200 240C185.8 244 172.8 247.6 150 250C126.7 252.5 88.3 253.7 60 255C31.7 256.3 -20 258 -20 258L-20 90C-20 90 68.7 91 88 86C99.9 82.9 92 69.7 96 60C100 50.3 106.3 41.3 112 28C117.7 14.7 130 -20 130 -20Z" fill="#a9c65c"/>
<path d="M480 820C480 820 475 740 470 700C465 660 455.5 616.7 450 580C444.5 543.3 439.5 510 437 480C434.5 450 435.2 430 435 400C434.8 370 435.2 326.5 436 300C436.8 273.5 436.7 253.7 440 241C442.7 230.8 446.6 228.8 456 224C465.5 219.2 477.9 214.5 497 212C517.7 209.3 545.7 207.7 580 208C614.3 208.3 666.3 209.3 703 214C739.7 218.7 755.6 230.3 800 236C849.5 242.3 921.2 247.2 1000 252C1078.8 256.8 1193.7 261.2 1273 265C1352.3 268.8 1384.6 272.9 1476 275C1597.2 277.8 1764.2 279.6 2000 282C2247.3 284.5 2960 290 2960 290L2960 820L480 820Z" fill="#80c1a6"/>
<path d="M520 820C520 820 514.2 723.3 510 680C505.8 636.7 499.2 594.5 495 560C490.8 525.5 487 503 485 473C483 443 483.2 407.7 483 380C482.8 352.3 483.3 326 484 307C484.6 288.5 483.3 276.3 487 266C490.7 255.7 496 250.5 506 245C516 239.5 527.9 235.3 547 233C566.2 230.7 595.5 229.8 621 231C646.5 232.2 670.2 236.5 700 240C729.8 243.5 754.8 248.1 800 252C850 256.3 921.2 261.8 1000 266C1078.8 270.2 1193.7 271.3 1273 277C1352.3 282.7 1384.2 294.8 1476 300C1597.2 306.8 1764.2 310.8 2000 318C2247.3 325.5 2960 345 2960 345L2960 820L520 820Z" fill="#64b8ca"/>
<path d="M565 820C565 820 555.8 696.7 550 650C544.2 603.3 534.7 569.5 530 540C525.3 510.5 524.7 496.3 522 473C519.3 449.7 515.3 424.3 514 400C512.7 375.7 513.3 346 514 327C514.7 308.5 514 297 518 286C522 275 527.7 267.5 538 261C548.3 254.5 560.2 249.5 580 247C600.7 244.3 625.3 241.5 662 245C698.7 248.5 743.7 262.2 800 268C856.3 273.8 921.2 276.3 1000 280C1078.8 283.7 1193.7 281.7 1273 290C1352.3 298.3 1383.2 322.4 1476 330C1602.2 340.3 1859.3 342.8 2030 352C2200.7 361.2 2345 372.8 2500 385C2655 397.2 2960 425 2960 425L2960 820L565 820Z" fill="#5b9dd1"/>
<path d="M632 820C632 820 629.3 736.7 626 700C622.7 663.3 618 630 612 600C606 570 598.7 541.7 590 520C581.3 498.3 566.5 490 560 470C553.5 450 552.5 420.3 551 400C549.5 379.7 550.3 362.2 551 348C551.7 333.8 551.5 324 555 315C558.5 306 563.7 299.8 572 294C580.3 288.2 590 283 605 280C620 277 636.3 275.9 662 276C694.5 276.2 743.7 278.2 800 281C856.3 283.8 921.2 288.8 1000 293C1078.8 297.2 1193.7 296.8 1273 306C1352.3 315.2 1386.2 336.8 1476 348C1565.8 359.2 1719.7 366.3 1812 373C1904.3 379.7 1973.7 382.7 2030 388C2084.3 393.1 2111.7 396.3 2150 405C2188.3 413.7 2219 427.5 2260 440C2301 452.5 2406 470 2396 480C2386 490 2261 493.7 2200 500C2139 506.3 2094.7 511.2 2030 518C1965.3 524.8 1886.5 532 1812 541C1737.5 550 1646.7 560.5 1583 572C1519.3 583.5 1481 598.5 1430 610C1379 621.5 1277 641 1277 641L1346 717L1265 820L632 820Z" fill="#6681bd"/>
<path d="M608 480C603.8 466.7 601.7 440 600 420C598.3 400 598 375.7 598 360C598 344.7 598.2 333.5 600 326C601.5 319.8 603.4 318.1 609 315C616 311.2 626.5 306.1 642 303C657.7 299.8 676.7 297.2 703 296C729.3 294.8 768.2 296 800 296C831.8 296 851.7 294.4 894 296C948 298 1060.2 301.5 1124 308C1187.8 314.5 1226 325.5 1277 335C1328 344.5 1379 356.8 1430 365C1481 373.2 1539.7 378.8 1583 384C1626.3 389.2 1659.5 392.5 1690 396C1720.5 399.5 1764.7 397.3 1766 405C1767.3 412.7 1722.2 430.2 1698 442C1673.8 453.8 1653 467.2 1621 476C1589 484.8 1550.7 488 1506 495C1461.3 502 1404 510.3 1353 518C1302 525.7 1251 532 1200 541C1149 550 1098 562.2 1047 572C996 581.8 935.2 597 894 600C852.8 603 829 595 800 590C771 585 743.3 580 720 570C696.7 560 675.8 541.7 660 530C644.2 518.3 633.7 508.3 625 500C616.5 491.8 611.5 491.3 608 480Z" fill="#5e60a1"/>
<path d="M800 820C800 820 797.5 758 800 740C802 725.8 803.3 719.5 815 712C826.7 704.5 848.3 694.5 870 695C891.7 695.5 945 715 945 715L885 820L800 820Z" fill="#5e60a1"/>
<path d="M672 323C676.2 317.2 688.6 316.2 703 315C724.3 313.2 768.2 312 800 312C831.8 312 851.7 313.2 894 315C937.7 316.8 1023.7 319.2 1062 323C1090.6 325.9 1101 331 1124 338C1147 345 1168.2 356.7 1200 365C1231.8 373.3 1276.7 381.7 1315 388C1353.3 394.3 1423.7 396.7 1430 403C1436.3 409.3 1385 417.7 1353 426C1321 434.3 1276.2 446 1238 453C1199.8 460 1162.2 464.8 1124 468C1085.8 471.2 1047.3 471.3 1009 472C970.7 472.7 928.8 474.3 894 472C859.2 469.7 825.7 465 800 458C774.3 451 756.7 440.5 740 430C723.3 419.5 710.3 408.3 700 395C689.7 381.7 682.7 362 678 350C673.5 338.4 667.8 328.8 672 323Z" fill="#514389"/>
<path d="M1646 820L1851 715L1836 640C1836 640 2069.3 611.7 2176 600C2282.7 588.3 2345.3 581.2 2476 570C2606.7 558.8 2960 533 2960 533L2960 820L1646 820Z" fill="#64b8ca"/>
<path d="M2330 820C2330 820 2438.3 796.3 2500 785C2561.7 773.7 2623.3 764 2700 752C2776.7 740 2960 713 2960 713L2960 820L2330 820Z" fill="#80c1a6"/>
</g>
</g>
<rect x="772.40" y="32.00" width="622.40" height="166.40" fill="none" stroke="#2b2b26" stroke-width="1.3"/>
<path d="M807.20 32.00v6M807.20 198.40v-6M865.06 32.00v6M865.06 198.40v-6M922.92 32.00v6M922.92 198.40v-6M980.78 32.00v6M980.78 198.40v-6M1038.64 32.00v6M1038.64 198.40v-6M1096.50 32.00v6M1096.50 198.40v-6M1154.36 32.00v6M1154.36 198.40v-6M1212.22 32.00v6M1212.22 198.40v-6M1270.08 32.00v6M1270.08 198.40v-6M1327.94 32.00v6M1327.94 198.40v-6M1385.80 32.00v6M1385.80 198.40v-6M772.40 32.00h6M1394.80 32.00h-6M772.40 73.60h6M1394.80 73.60h-6M772.40 115.20h6M1394.80 115.20h-6M772.40 156.80h6M1394.80 156.80h-6M772.40 198.40h6M1394.80 198.40h-6" stroke="#2b2b26" stroke-width="1.2" fill="none"/>
<clipPath id="c_r2r"><rect x="772.50" y="255.50" width="622.70" height="164.70"/></clipPath>
<g clip-path="url(#c_r2r)">
<rect x="772.50" y="255.50" width="622.70" height="164.70" fill="#efb43c"/>
<g transform="translate(771 254) scale(0.211372)">
<path d="M725 -20C725 -20 725.5 23.7 728 40C730.5 56.3 734.7 70.2 740 78C745.3 85.8 750.1 86.7 760 87C813.3 88.5 1008.7 91.5 1060 87C1072.6 85.9 1064.7 68.7 1068 60C1071.3 51.3 1074.7 40.8 1080 35C1085.3 29.2 1090 25.6 1100 25C1130 23.3 1230 23.3 1260 25C1270 25.6 1274.7 29.2 1280 35C1285.3 40.8 1288.7 51.7 1292 60C1295.3 68.3 1288.3 83.2 1300 85C1330.7 89.7 1406.7 88 1476 88C1545.3 88 1649.3 90.5 1716 85C1782.7 79.5 1816 62.5 1876 55C1936 47.5 1985.8 42.2 2076 40C2256.7 35.5 2960 28 2960 28L2960 -20L725 -20Z" fill="#c2c43d"/>
<path d="M540 158C540.7 151.3 546 138.7 556 132C566 125.3 579.4 120.9 600 118C624 114.7 654.9 112.5 700 112C750 111.5 833.3 113.3 900 115C966.7 116.7 1033.3 119.8 1100 122C1166.7 124.2 1237.3 125.8 1300 128C1362.7 130.2 1417.7 131.7 1476 135C1534.3 138.3 1593.3 143.8 1650 148C1706.7 152.2 1816 153.8 1816 160C1816 166.2 1706.7 176.7 1650 185C1593.3 193.3 1534.3 206.2 1476 210C1417.7 213.8 1362.7 208.8 1300 208C1237.3 207.2 1166.7 206.3 1100 205C1033.3 203.7 966.7 201.8 900 200C833.3 198.2 750 196.5 700 194C654.9 191.7 624.7 188.7 600 185C577.9 181.7 562 176.5 552 172C544.4 168.6 539.3 164.7 540 158Z" fill="#f7cb35"/>
<path d="M620 160C630 156.8 670 149.7 700 148C730 146.3 770 148 800 150C830 152 880 156.7 880 160C880 163.3 830 168 800 170C770 172 726.7 172.5 700 172C673.3 171.5 653.3 169 640 167C630.6 165.6 610.9 162.9 620 160Z" fill="#f3e147"/>
<path d="M300 820C300 820 300.2 700 301 650C301.8 600 302.7 553.3 305 520C307.2 488.3 310.8 468.7 315 450C319.2 431.3 325 417 330 408C334.2 400.4 339.7 395.7 345 396C350.3 396.3 357.8 401 362 410C367.8 422.3 375.3 445 380 470C384.7 495 387.5 521.7 390 560C392.5 598.3 394.2 656.7 395 700C395.8 743.3 395 820 395 820L300 820Z" fill="#f7cb35"/>
<path d="M130 -20L345 -20C345 -20 345.2 23.3 347 40C348.8 56.7 349.7 68.3 356 80C362.3 91.7 372.7 100 385 110C397.3 120 415 130.8 430 140C445 149.2 456.7 157 475 165C493.3 173 512.5 182.2 540 188C567.5 193.8 604.7 197.2 640 200C675.3 202.8 701.8 199.6 752 205C818 212.2 915.3 234.7 1036 243C1156.7 251.3 1277.9 254.3 1476 255C1796.7 256.2 2960 250 2960 250L2960 820L440 820C440 820 438.7 703.3 437 650C435.3 596.7 432.7 535 430 500C427.9 472.8 425.2 463.3 421 440C416.8 416.7 411 383.3 405 360C399 336.7 393.3 316.3 385 300C376.7 283.7 365.8 272 355 262C344.2 252 332.5 246.3 320 240C307.5 233.7 294.2 227 280 224C265.8 221 248.3 219.7 235 222C221.7 224.3 214.2 233.3 200 238C185.8 242.7 173 247.2 150 250C126.7 252.8 88.3 253.7 60 255C31.7 256.3 -20 258 -20 258L-20 90C-20 90 68.7 91 88 86C99.9 82.9 92 69.7 96 60C100 50.3 106.3 41.3 112 28C117.7 14.7 130 -20 130 -20Z" fill="#c2c43d"/>
<path d="M490 820C490 820 484.2 740 480 700C475.8 660 470.8 618.3 465 580C459.2 541.7 449.7 503.3 445 470C440.3 436.7 438.3 408.3 437 380C435.7 351.7 436.7 321.7 437 300C437.3 278.3 437.5 262.3 439 250C440.4 238.8 440.8 232.3 446 226C451.2 219.7 457.9 215.1 470 212C482.3 208.8 497.4 207.5 520 207C548.3 206.3 601.3 205.2 640 208C678.7 210.8 701.6 216.7 752 224C818 233.5 915.3 255.7 1036 265C1156.7 274.3 1277.9 277.9 1476 280C1796.7 283.3 2960 285 2960 285L2960 820L490 820Z" fill="#90c48a"/>
<path d="M535 820C535 820 530 740 525 700C520 660 511.7 618.3 505 580C498.3 541.7 489.2 503.3 485 470C480.8 436.7 480.8 408.3 480 380C479.2 351.7 479.3 320.8 480 300C480.7 279.7 481.3 265.7 484 255C486.5 245.2 488.3 240.8 496 236C503.7 231.2 514.2 227.8 530 226C547.3 224 568.6 221.6 600 224C637 226.8 683.6 234.2 752 243C824.7 252.3 915.3 270.8 1036 280C1156.7 289.2 1277.9 293.7 1476 298C1796.7 305 2960 322 2960 322L2960 820L535 820Z" fill="#74c0b4"/>
<path d="M590 820C590 820 585 740 580 700C575 660 568.3 618.3 560 580C551.7 541.7 536.7 503.3 530 470C523.3 436.7 521.7 408.3 520 380C518.3 351.7 518.8 318.3 520 300C520.9 286.2 524 277.2 527 270C530 262.9 531.4 260.9 538 257C545.2 252.8 554.8 247.4 570 245C587 242.3 609.7 238.2 640 241C670.3 243.8 701.2 255.3 752 262C818 270.7 915.3 284.2 1036 293C1156.7 301.8 1277.8 309.1 1476 315C1796.7 324.5 2960 350 2960 350L2960 820L590 820Z" fill="#62b7cf"/>
<path d="M1110 820C1110 820 1099.2 730 1100 700C1100.8 672.2 1116.7 658.3 1115 640C1113.3 621.7 1100.8 605.8 1090 590C1079.2 574.2 1065 556.3 1050 545C1035 533.7 1016.7 526.2 1000 522C983.3 517.8 971.7 517.8 950 520C928.3 522.2 895 527.5 870 535C845 542.5 820 557.8 800 565C780 572.2 766.7 579.7 750 578C733.3 576.3 716.7 566.3 700 555C683.3 543.7 665.8 527.5 650 510C634.2 492.5 618 470 605 450C592 430 579.8 407.5 572 390C564.2 372.5 560.3 359.2 558 345C555.7 330.8 556.7 314.5 558 305C559.2 296.6 562.7 292.5 566 288C569.3 283.5 571.4 280.5 578 278C585.3 275.2 595.3 272.3 610 271C627 269.5 656.3 268.8 680 269C703.7 269.2 719.7 268.9 752 272C811.3 277.7 915.3 294.2 1036 303C1156.7 311.8 1315.3 317.2 1476 325C1636.7 332.8 1829.3 341.7 2000 350C2170.7 358.3 2340 366.7 2500 375C2660 383.3 2960 400 2960 400L2960 820L1110 820Z" fill="#5c9dd0"/>
<path d="M640 410C625.7 401 618.5 395 612 385C605.5 375 603 360 601 350C599 340 599.2 331.7 600 325C600.8 318.3 602.7 314.2 606 310C609.3 305.8 612.5 302.1 620 300C629 297.5 646.7 296 660 295C673.3 294 684.7 294.3 700 294C715.3 293.7 728.6 292.5 752 293C785.3 293.7 852.7 295.7 900 298C947.3 300.3 974.7 303.9 1036 307C1102.7 310.3 1195 313.2 1300 318C1405 322.8 1552.3 329.7 1666 336C1779.7 342.3 1893 349.5 1982 356C2071 362.5 2117.7 366.8 2200 375C2282.3 383.2 2392.7 394.2 2476 405C2559.3 415.8 2625 428.3 2700 440C2775 451.7 2926 466.7 2926 475C2926 483.3 2775 485 2700 490C2625 495 2559.3 499.2 2476 505C2392.7 510.8 2282.3 517.2 2200 525C2117.7 532.8 2060.3 543.3 1982 552C1903.7 560.7 1803.5 569.7 1730 577C1656.5 584.3 1609.3 591.8 1541 596C1472.7 600.2 1372.7 604 1320 602C1276.5 600.3 1261.8 598.7 1225 584C1188.2 569.3 1130.5 534.7 1099 514C1067.8 493.5 1052.5 469.3 1036 460C1021.9 452 1016.2 459.2 1000 458C977.3 456.3 933.3 450.5 900 450C866.7 449.5 833.3 456.7 800 455C766.7 453.3 726.7 447.5 700 440C673.3 432.5 654.7 419.2 640 410Z" fill="#6780b9"/>
<path d="M685 320C691.7 315.2 720.8 314.3 740 313C759.2 311.7 775 311.2 800 312C825 312.8 883.3 310.8 890 318C896.7 325.2 856.7 346 840 355C823.3 364 806.7 370.8 790 372C773.3 373.2 755 367 740 362C725 357 709.2 349 700 342C690.8 335 678.3 324.8 685 320Z" fill="#6064a3"/>
<path d="M1036 375C1037.3 365.5 1043.7 348.8 1050 340C1056.3 331.2 1060.5 322.9 1074 322C1103.2 320 1157.7 324.3 1225 328C1292.3 331.7 1404.3 338.2 1478 344C1551.7 349.8 1583 356.2 1667 363C1751 369.8 1909.8 378.8 1982 385C2035.3 389.6 2063.7 392.5 2100 400C2136.3 407.5 2162.3 418.3 2200 430C2237.7 441.7 2326 461.7 2326 470C2326 478.3 2256.6 474.7 2200 480C2142.7 485.3 2070.8 496.3 1982 502C1893.2 507.7 1751 509.8 1667 514C1583 518.2 1541.2 526 1478 527C1414.8 528 1340.7 529.5 1288 520C1235.3 510.5 1196.7 486.7 1162 470C1127.3 453.3 1100 432.2 1080 420C1062.9 409.6 1049.3 404.5 1042 397C1034.8 389.7 1034.7 384.5 1036 375Z" fill="#6064a3"/>
<path d="M1118 397C1116 386.8 1137.3 372.8 1150 365C1162.7 357.2 1173.5 354 1194 350C1217 345.5 1251.2 338.5 1288 338C1324.8 337.5 1362.3 341.3 1415 347C1467.7 352.7 1548.2 365.2 1604 372C1659.8 378.8 1708 383.8 1750 388C1792 392.2 1848.8 389.7 1856 397C1863.2 404.3 1823.6 421.2 1793 432C1761.5 443.2 1719.5 456.7 1667 464C1614.5 471.3 1530.7 474 1478 476C1425.3 478 1387.8 479.2 1351 476C1314.2 472.8 1288.5 465.3 1257 457C1225.5 448.7 1185.2 436 1162 426C1140.2 416.6 1120 407.2 1118 397Z" fill="#574892"/>
<path d="M1219 397C1224.2 392.3 1256.6 387.4 1288 385C1320.7 382.5 1365.5 380 1415 382C1464.5 384 1574.5 391.8 1585 397C1595.5 402.2 1517 408.7 1478 413C1439 417.3 1387.8 423 1351 423C1314.2 423 1279 417.3 1257 413C1238.8 409.4 1213.8 401.7 1219 397Z" fill="#4d3f8a"/>
<path d="M1640 820L1916 705L1946 630C1946 630 2111.7 617.3 2200 612C2288.3 606.7 2352 607.1 2476 598C2602.7 588.7 2960 556 2960 556L2960 820L1640 820Z" fill="#62b7cf"/>
<path d="M2120 820C2120 820 2148.6 798.7 2176 792C2256 772.3 2469.3 729.7 2600 702C2730.7 674.3 2960 626 2960 626L2960 820L2120 820Z" fill="#88c39c"/>
</g>
</g>
<rect x="772.50" y="255.50" width="622.70" height="164.70" fill="none" stroke="#2b2b26" stroke-width="1.3"/>
<path d="M807.30 255.50v6M807.30 420.20v-6M865.20 255.50v6M865.20 420.20v-6M923.10 255.50v6M923.10 420.20v-6M981.00 255.50v6M981.00 420.20v-6M1038.90 255.50v6M1038.90 420.20v-6M1096.80 255.50v6M1096.80 420.20v-6M1154.70 255.50v6M1154.70 420.20v-6M1212.60 255.50v6M1212.60 420.20v-6M1270.50 255.50v6M1270.50 420.20v-6M1328.40 255.50v6M1328.40 420.20v-6M1386.30 255.50v6M1386.30 420.20v-6M772.50 255.50h6M1395.20 255.50h-6M772.50 296.68h6M1395.20 296.68h-6M772.50 337.85h6M1395.20 337.85h-6M772.50 379.02h6M1395.20 379.02h-6M772.50 420.20h6M1395.20 420.20h-6" stroke="#2b2b26" stroke-width="1.2" fill="none"/>
<clipPath id="c_r3r"><rect x="772.70" y="480.20" width="624.80" height="165.10"/></clipPath>
<g clip-path="url(#c_r3r)">
<rect x="772.70" y="480.20" width="624.80" height="165.10" fill="#efb43c"/>
<g transform="translate(771 478) scale(0.211372)">
<path d="M725 -20C725 -20 725.5 23.7 728 40C730.5 56.3 734.7 70.2 740 78C745.3 85.8 750.1 86.7 760 87C813.3 88.5 1008.7 91.5 1060 87C1072.6 85.9 1064.7 68.7 1068 60C1071.3 51.3 1074.7 40.8 1080 35C1085.3 29.2 1090 25.6 1100 25C1130 23.3 1230 23.3 1260 25C1270 25.6 1274.7 29.2 1280 35C1285.3 40.8 1288.7 51.7 1292 60C1295.3 68.3 1288.3 83.2 1300 85C1330.7 89.7 1396.8 87.6 1476 88C1573.7 88.5 1817 92.7 1886 88C1898.7 87.1 1887.7 68 1890 60C1892.3 52 1893.3 45 1900 40C1906.7 35 1915.8 30.9 1930 30C1956.7 28.3 2031.7 27.5 2060 30C2079.1 31.7 2089 35.3 2100 45C2111 54.7 2103.6 84.7 2126 88C2172 94.8 2317.7 89.8 2376 86C2421.9 83 2430.3 69.8 2476 65C2530 59.3 2619.3 55.3 2700 52C2780.7 48.7 2960 45 2960 45L2960 -20L725 -20Z" fill="#c2c43d"/>
<path d="M540 158C540.7 151.3 546 138.7 556 132C566 125.3 579.4 120.9 600 118C624 114.7 654.9 112.5 700 112C750 111.5 833.3 113.3 900 115C966.7 116.7 1033.3 119.8 1100 122C1166.7 124.2 1237.3 125.3 1300 128C1362.7 130.7 1432.7 134.3 1476 138C1514 141.2 1535 144.7 1560 150C1585 155.3 1626 163.3 1626 170C1626 176.7 1585 183.3 1560 190C1535 196.7 1514.8 207.3 1476 210C1432.7 213 1362.7 208.8 1300 208C1237.3 207.2 1166.7 206.3 1100 205C1033.3 203.7 966.7 201.8 900 200C833.3 198.2 750 196.5 700 194C654.9 191.7 624.7 188.7 600 185C577.9 181.7 562 176.5 552 172C544.4 168.6 539.3 164.7 540 158Z" fill="#f7cb35"/>
<path d="M1936 170C1936 166.7 1972.7 162 2000 160C2027.3 158 2066.7 157.7 2100 158C2133.3 158.3 2167.3 160.3 2200 162C2232.7 163.7 2296 165.3 2296 168C2296 170.7 2232.7 175.7 2200 178C2167.3 180.3 2133.3 181.7 2100 182C2066.7 182.3 2027.3 182 2000 180C1972.7 178 1936 173.3 1936 170Z" fill="#f7cb35"/>
<path d="M620 160C630 156.8 670 149.7 700 148C730 146.3 770 148 800 150C830 152 880 156.7 880 160C880 163.3 830 168 800 170C770 172 726.7 172.5 700 172C673.3 171.5 653.3 169 640 167C630.6 165.6 610.9 162.9 620 160Z" fill="#f3e147"/>
<path d="M300 820C300 820 300.2 700 301 650C301.8 600 302.7 553.3 305 520C307.2 488.3 310.8 468.7 315 450C319.2 431.3 325 417 330 408C334.2 400.4 339.7 395.7 345 396C350.3 396.3 357.8 401 362 410C367.8 422.3 375.3 445 380 470C384.7 495 387.5 521.7 390 560C392.5 598.3 394.2 656.7 395 700C395.8 743.3 395 820 395 820L300 820Z" fill="#f7cb35"/>
<path d="M130 -20L345 -20C345 -20 345.2 23.3 347 40C348.8 56.7 349.7 68.3 356 80C362.3 91.7 372.7 100 385 110C397.3 120 415 130.8 430 140C445 149.2 456.7 157 475 165C493.3 173 512.5 182.2 540 188C567.5 193.8 604.7 197.2 640 200C675.3 202.8 701.8 199.6 752 205C818 212.2 915.3 234.7 1036 243C1156.7 251.3 1277.9 253.8 1476 255C1796.7 257 2960 255 2960 255L2960 820L440 820C440 820 438.7 703.3 437 650C435.3 596.7 432.7 535 430 500C427.9 472.8 425.2 463.3 421 440C416.8 416.7 411 383.3 405 360C399 336.7 393.3 316.3 385 300C376.7 283.7 365.8 272 355 262C344.2 252 332.5 246.3 320 240C307.5 233.7 294.2 227 280 224C265.8 221 248.3 219.7 235 222C221.7 224.3 214.2 233.3 200 238C185.8 242.7 173 247.2 150 250C126.7 252.8 88.3 253.7 60 255C31.7 256.3 -20 258 -20 258L-20 90C-20 90 68.7 91 88 86C99.9 82.9 92 69.7 96 60C100 50.3 106.3 41.3 112 28C117.7 14.7 130 -20 130 -20Z" fill="#c2c43d"/>
<path d="M490 820C490 820 484.2 740 480 700C475.8 660 470.8 618.3 465 580C459.2 541.7 449.7 503.3 445 470C440.3 436.7 438.3 408.3 437 380C435.7 351.7 436.7 321.7 437 300C437.3 278.3 437.5 262.3 439 250C440.4 238.8 440.8 232.3 446 226C451.2 219.7 457.9 215.1 470 212C482.3 208.8 497.4 207.5 520 207C548.3 206.3 601.3 205.2 640 208C678.7 210.8 701.6 217.1 752 224C818 233 915.3 253.2 1036 262C1156.7 270.8 1277.9 274.6 1476 277C1796.7 280.8 2960 285 2960 285L2960 820L490 820Z" fill="#90c48a"/>
<path d="M535 820C535 820 530 740 525 700C520 660 511.7 618.3 505 580C498.3 541.7 489.2 503.3 485 470C480.8 436.7 480.8 408.3 480 380C479.2 351.7 479.3 320.8 480 300C480.7 279.7 481.3 265.7 484 255C486.5 245.2 488.3 240.8 496 236C503.7 231.2 514.2 227.8 530 226C547.3 224 568.6 221.6 600 224C637 226.8 683.6 234.2 752 243C824.7 252.3 915.3 271.7 1036 280C1156.7 288.3 1277.9 290.1 1476 293C1707 296.3 2174.7 297.2 2422 300C2664.1 302.8 2960 310 2960 310L2960 820L535 820Z" fill="#74c0b4"/>
<path d="M590 820C590 820 585 740 580 700C575 660 568.3 618.3 560 580C551.7 541.7 536.7 503.3 530 470C523.3 436.7 521.7 408.3 520 380C518.3 351.7 518.8 318.3 520 300C520.9 286.2 524 277.2 527 270C530 262.9 531.4 260.9 538 257C545.2 252.8 554.8 247.4 570 245C587 242.3 609.7 238.2 640 241C670.3 243.8 701.2 255.3 752 262C818 270.7 915.3 285.7 1036 293C1156.7 300.3 1278 301.4 1476 306C1707 311.3 2174.7 320.2 2422 325C2664.1 329.7 2960 335 2960 335L2960 820L590 820Z" fill="#62b7cf"/>
<path d="M1150 820C1150 820 1130 730 1130 700C1130 671.5 1156.7 658.3 1150 640C1143.3 621.7 1106.7 605.8 1090 590C1073.3 574.2 1065 556.3 1050 545C1035 533.7 1016.7 526.2 1000 522C983.3 517.8 971.7 517.8 950 520C928.3 522.2 895 527.5 870 535C845 542.5 820 557.8 800 565C780 572.2 766.7 579.7 750 578C733.3 576.3 716.7 566.3 700 555C683.3 543.7 665.8 527.5 650 510C634.2 492.5 618 470 605 450C592 430 579.8 407.5 572 390C564.2 372.5 560.3 359.2 558 345C555.7 330.8 556.7 314.5 558 305C559.2 296.6 562.7 292.5 566 288C569.3 283.5 571.4 280.5 578 278C585.3 275.2 595.3 272.3 610 271C627 269.5 656.3 268.8 680 269C703.7 269.2 719.7 268.9 752 272C811.3 277.7 915.3 295.2 1036 303C1156.7 310.8 1278 313.1 1476 319C1707 325.8 2174.7 338 2422 344C2664.1 349.9 2960 355 2960 355L2960 820L1150 820Z" fill="#5c9dd0"/>
<path d="M640 410C625.7 401 618.5 395 612 385C605.5 375 603 360 601 350C599 340 599.2 331.7 600 325C600.8 318.3 602.7 314.2 606 310C609.3 305.8 612.5 302.1 620 300C629 297.5 646.7 296 660 295C673.3 294 684.7 294.3 700 294C715.3 293.7 728.6 292.5 752 293C785.3 293.7 852.7 295.7 900 298C947.3 300.3 974.7 303.9 1036 307C1102.7 310.3 1226.7 313.5 1300 318C1373.3 322.5 1396.6 328.9 1476 334C1559.3 339.3 1654.1 345.1 1800 350C1957.7 355.3 2228.7 361.3 2422 366C2615.3 370.7 2960 378 2960 378L2960 548C2960 548 2543.2 577.2 2422 583C2337 587.1 2296 584 2233 583C2170 582 2096.5 581.2 2044 577C1991.5 572.8 1960.2 564.3 1918 558C1875.8 551.7 1833.2 542.2 1791 539C1748.8 535.8 1717.5 534.7 1665 539C1612.5 543.3 1536.8 558.2 1476 565C1415.2 571.8 1346 580.8 1300 580C1254.1 579.2 1233.3 573.3 1200 560C1166.7 546.7 1127.3 516.7 1100 500C1072.7 483.3 1052.7 467 1036 460C1021 453.7 1016.2 459.2 1000 458C977.3 456.3 933.3 450.5 900 450C866.7 449.5 833.3 456.7 800 455C766.7 453.3 726.7 447.5 700 440C673.3 432.5 654.7 419.2 640 410Z" fill="#6780b9"/>
<path d="M685 320C691.7 315.2 720.8 314.3 740 313C759.2 311.7 775 311.2 800 312C825 312.8 883.3 310.8 890 318C896.7 325.2 856.7 346 840 355C823.3 364 806.7 370.8 790 372C773.3 373.2 755 367 740 362C725 357 709.2 349 700 342C690.8 335 678.3 324.8 685 320Z" fill="#6064a3"/>
<path d="M1036 400C1037.7 390 1051 370.8 1060 360C1069 349.2 1072.7 338.3 1090 335C1117.5 329.7 1164.3 324.7 1225 328C1289.3 331.5 1381.7 347 1476 356C1570.3 365 1685.8 377.7 1791 382C1896.2 386.3 2001.8 381 2107 382C2212.2 383 2280.2 385.3 2422 388C2564.2 390.7 2960 398 2960 398L2960 500C2960 500 2553.7 528.5 2422 533C2308.6 536.9 2233 530.2 2170 527C2113.1 524.1 2086 518.2 2044 514C2002 509.8 1960.2 506.2 1918 502C1875.8 497.8 1833.2 491.2 1791 489C1748.8 486.8 1717.5 485.8 1665 489C1612.5 492.2 1536.8 504.2 1476 508C1415.2 511.8 1346 513.3 1300 512C1254.7 510.7 1233.3 510.3 1200 500C1166.7 489.7 1125 463.3 1100 450C1076.8 437.7 1060.7 428.3 1050 420C1041.3 413.2 1034.3 410 1036 400Z" fill="#6064a3"/>
<path d="M1130 397C1131.7 389.2 1148.3 374.8 1160 368C1171.7 361.2 1181.4 358.4 1200 356C1223.3 353 1255.1 346.4 1300 350C1346 353.7 1436.2 371.7 1476 378C1504.3 382.5 1510.6 383.8 1539 388C1568.5 392.3 1647.7 396.7 1653 404C1658.3 411.3 1600.5 423.2 1571 432C1541.5 440.8 1519.9 451.7 1476 457C1430.8 462.5 1346 467.8 1300 465C1254 462.2 1225 448.3 1200 440C1176.1 432 1161.7 422.2 1150 415C1139.7 408.7 1128.3 404.8 1130 397Z" fill="#574892"/>
<path d="M1270 400C1270 397.5 1297.3 394.1 1320 393C1345 391.8 1394 392.3 1420 393C1445.3 393.6 1476 395 1476 397C1476 399 1445.4 403.2 1420 405C1394 406.8 1345 408.8 1320 408C1297.2 407.2 1270 402.5 1270 400Z" fill="#4d3f8a"/>
<path d="M1966 405C1999.3 397.5 2144.3 400.8 2196 405C2233.6 408 2239.6 420.2 2276 430C2322.7 442.5 2462.2 471.7 2476 480C2489.8 488.3 2411.6 479.3 2359 480C2282.3 481 2076.5 491 2016 486C1997.5 484.5 2004.3 463.5 1996 450C1987.7 436.5 1942.3 410.3 1966 405Z" fill="#574892"/>
<path d="M1476 790L1566 710L1556 640C1556 640 1625.8 615.3 1665 609C1704.2 602.7 1748.8 599.3 1791 602C1833.2 604.7 1884.3 615.3 1918 625C1951.7 634.7 1975 650 1993 660C2009.3 669 2008.6 678.4 2026 685C2048.2 693.3 2079.7 712 2126 710C2184.3 707.5 2284.3 681.7 2376 670C2467.7 658.3 2578.7 648.7 2676 640C2773.3 631.3 2960 618 2960 618L2960 820L1476 820L1476 790Z" fill="#62b7cf"/>
<path d="M2560 820C2560 820 2564.2 801.2 2576 798C2609.3 788.8 2696 775 2760 765C2824 755 2960 738 2960 738L2960 820L2560 820Z" fill="#88c39c"/>
</g>
</g>
<rect x="772.70" y="480.20" width="624.80" height="165.10" fill="none" stroke="#2b2b26" stroke-width="1.3"/>
<path d="M807.60 480.20v6M807.60 645.30v-6M865.69 480.20v6M865.69 645.30v-6M923.78 480.20v6M923.78 645.30v-6M981.87 480.20v6M981.87 645.30v-6M1039.96 480.20v6M1039.96 645.30v-6M1098.05 480.20v6M1098.05 645.30v-6M1156.14 480.20v6M1156.14 645.30v-6M1214.23 480.20v6M1214.23 645.30v-6M1272.32 480.20v6M1272.32 645.30v-6M1330.41 480.20v6M1330.41 645.30v-6M1388.50 480.20v6M1388.50 645.30v-6M772.70 480.20h6M1397.50 480.20h-6M772.70 521.48h6M1397.50 521.48h-6M772.70 562.75h6M1397.50 562.75h-6M772.70 604.02h6M1397.50 604.02h-6M772.70 645.30h6M1397.50 645.30h-6" stroke="#2b2b26" stroke-width="1.2" fill="none"/>
<text x="44.80" y="40.80" font-size="20.6" text-anchor="end" >3</text>
<text x="44.80" y="82.25" font-size="20.6" text-anchor="end" >2</text>
<text x="44.80" y="123.70" font-size="20.6" text-anchor="end" >1</text>
<text x="44.80" y="165.15" font-size="20.6" text-anchor="end" >0</text>
<text x="44.80" y="206.60" font-size="20.6" text-anchor="end" >&#8722;1</text>
<text transform="translate(22.2 154.70) rotate(-90)" font-size="20.5">lg<tspan dx="2.8" font-size="24.5">(</tspan><tspan font-style="italic" dx="0">f</tspan><tspan font-style="italic" font-size="14" dy="4">p</tspan><tspan dy="-4" dx="1.2">/</tspan><tspan dx="0.8">Hz</tspan><tspan font-size="24.5" dx="-0.4">)</tspan></text>
<text x="44.80" y="264.20" font-size="20.6" text-anchor="end" >3</text>
<text x="44.80" y="305.27" font-size="20.6" text-anchor="end" >2</text>
<text x="44.80" y="346.35" font-size="20.6" text-anchor="end" >1</text>
<text x="44.80" y="387.43" font-size="20.6" text-anchor="end" >0</text>
<text x="44.80" y="428.50" font-size="20.6" text-anchor="end" >&#8722;1</text>
<text transform="translate(22.2 378.10) rotate(-90)" font-size="20.5">lg<tspan dx="2.8" font-size="24.5">(</tspan><tspan font-style="italic" dx="0">f</tspan><tspan font-style="italic" font-size="14" dy="4">p</tspan><tspan dy="-4" dx="1.2">/</tspan><tspan dx="0.8">Hz</tspan><tspan font-size="24.5" dx="-0.4">)</tspan></text>
<text x="44.80" y="488.50" font-size="20.6" text-anchor="end" >3</text>
<text x="44.80" y="529.65" font-size="20.6" text-anchor="end" >2</text>
<text x="44.80" y="570.80" font-size="20.6" text-anchor="end" >1</text>
<text x="44.80" y="611.95" font-size="20.6" text-anchor="end" >0</text>
<text x="44.80" y="653.10" font-size="20.6" text-anchor="end" >&#8722;1</text>
<text transform="translate(22.2 602.40) rotate(-90)" font-size="20.5">lg<tspan dx="2.8" font-size="24.5">(</tspan><tspan font-style="italic" dx="0">f</tspan><tspan font-style="italic" font-size="14" dy="4">p</tspan><tspan dy="-4" dx="1.2">/</tspan><tspan dx="0.8">Hz</tspan><tspan font-size="24.5" dx="-0.4">)</tspan></text>
<text x="85.40" y="666.20" font-size="20.6" text-anchor="middle" >0</text>
<text x="143.16" y="666.20" font-size="20.6" text-anchor="middle" >1</text>
<text x="200.92" y="666.20" font-size="20.6" text-anchor="middle" >2</text>
<text x="258.68" y="666.20" font-size="20.6" text-anchor="middle" >3</text>
<text x="316.44" y="666.20" font-size="20.6" text-anchor="middle" >4</text>
<text x="374.20" y="666.20" font-size="20.6" text-anchor="middle" >5</text>
<text x="431.96" y="666.20" font-size="20.6" text-anchor="middle" >6</text>
<text x="489.72" y="666.20" font-size="20.6" text-anchor="middle" >7</text>
<text x="547.48" y="666.20" font-size="20.6" text-anchor="middle" >8</text>
<text x="605.24" y="666.20" font-size="20.6" text-anchor="middle" >9</text>
<text x="663.00" y="666.20" font-size="20.6" text-anchor="middle" >10</text>
<text x="337.00" y="688.70" font-size="20.5"><tspan font-style="italic">x</tspan><tspan dx="1.0" font-size="28" dy="1.2">/</tspan><tspan dx="1.6" dy="-1.2">km</tspan></text>
<text x="808.60" y="666.80" font-size="20.6" text-anchor="middle" >0</text>
<text x="866.69" y="666.80" font-size="20.6" text-anchor="middle" >1</text>
<text x="924.78" y="666.80" font-size="20.6" text-anchor="middle" >2</text>
<text x="982.87" y="666.80" font-size="20.6" text-anchor="middle" >3</text>
<text x="1040.96" y="666.80" font-size="20.6" text-anchor="middle" >4</text>
<text x="1099.05" y="666.80" font-size="20.6" text-anchor="middle" >5</text>
<text x="1157.14" y="666.80" font-size="20.6" text-anchor="middle" >6</text>
<text x="1215.23" y="666.80" font-size="20.6" text-anchor="middle" >7</text>
<text x="1273.32" y="666.80" font-size="20.6" text-anchor="middle" >8</text>
<text x="1331.41" y="666.80" font-size="20.6" text-anchor="middle" >9</text>
<text x="1389.50" y="666.80" font-size="20.6" text-anchor="middle" >10</text>
<text x="1059.00" y="689.30" font-size="20.5"><tspan font-style="italic">x</tspan><tspan dx="1.0" font-size="28" dy="1.2">/</tspan><tspan dx="1.6" dy="-1.2">km</tspan></text>
<rect x="718.50" y="32.50" width="27.80" height="167.60" fill="url(#cbar)" stroke="#2b2b26" stroke-width="1.3"/>
<path d="M718.50 53.50h3M718.50 88.30h3M718.50 123.20h3M718.50 158.10h3M718.50 193.00h3" stroke="#2b2b26" stroke-width="1.1"/>
<text x="714.20" y="61.30" font-size="20.6" text-anchor="end">1.05</text>
<text x="714.20" y="96.10" font-size="20.6" text-anchor="end">1</text>
<text x="714.20" y="131.00" font-size="20.6" text-anchor="end">0.95</text>
<text x="714.20" y="165.90" font-size="20.6" text-anchor="end">0.9</text>
<text x="714.20" y="200.80" font-size="20.6" text-anchor="end">0.85</text>
<rect x="718.50" y="255.40" width="26.80" height="167.80" fill="url(#cbar)" stroke="#2b2b26" stroke-width="1.3"/>
<path d="M718.50 256.00h3M718.50 284.50h3M718.50 312.60h3M718.50 341.00h3M718.50 369.50h3M718.50 398.00h3" stroke="#2b2b26" stroke-width="1.1"/>
<text x="714.20" y="263.80" font-size="20.6" text-anchor="end">1.05</text>
<text x="714.20" y="292.30" font-size="20.6" text-anchor="end">1</text>
<text x="714.20" y="320.40" font-size="20.6" text-anchor="end">0.95</text>
<text x="714.20" y="348.80" font-size="20.6" text-anchor="end">0.9</text>
<text x="714.20" y="377.30" font-size="20.6" text-anchor="end">0.85</text>
<text x="714.20" y="405.80" font-size="20.6" text-anchor="end">0.8</text>
<rect x="719.20" y="477.90" width="28.60" height="168.10" fill="url(#cbar)" stroke="#2b2b26" stroke-width="1.3"/>
<path d="M719.20 478.20h3M719.20 506.80h3M719.20 535.40h3M719.20 564.00h3M719.20 592.50h3M719.20 621.10h3" stroke="#2b2b26" stroke-width="1.1"/>
<text x="714.60" y="486.00" font-size="20.6" text-anchor="end">1.05</text>
<text x="714.60" y="514.60" font-size="20.6" text-anchor="end">1</text>
<text x="714.60" y="543.20" font-size="20.6" text-anchor="end">0.95</text>
<text x="714.60" y="571.80" font-size="20.6" text-anchor="end">0.9</text>
<text x="714.60" y="600.30" font-size="20.6" text-anchor="end">0.85</text>
<text x="714.60" y="628.90" font-size="20.6" text-anchor="end">0.8</text>
<rect x="1445.20" y="31.70" width="33.60" height="167.00" fill="url(#cbar)" stroke="#2b2b26" stroke-width="1.3"/>
<path d="M1445.20 31.70h3M1445.20 69.70h3M1445.20 106.60h3M1445.20 143.50h3M1445.20 181.00h3" stroke="#2b2b26" stroke-width="1.1"/>
<text x="1441.50" y="39.50" font-size="20.6" text-anchor="end">1.02</text>
<text x="1441.50" y="77.50" font-size="20.6" text-anchor="end">1</text>
<text x="1441.50" y="114.40" font-size="20.6" text-anchor="end">0.98</text>
<text x="1441.50" y="151.30" font-size="20.6" text-anchor="end">0.96</text>
<text x="1441.50" y="188.80" font-size="20.6" text-anchor="end">0.94</text>
<rect x="1446.00" y="254.10" width="34.80" height="166.20" fill="url(#cbar)" stroke="#2b2b26" stroke-width="1.3"/>
<path d="M1446.00 254.10h3M1446.00 286.00h3M1446.00 317.60h3M1446.00 349.40h3M1446.00 381.20h3M1446.00 412.80h3" stroke="#2b2b26" stroke-width="1.1"/>
<text x="1442.30" y="261.90" font-size="20.6" text-anchor="end">1.02</text>
<text x="1442.30" y="293.80" font-size="20.6" text-anchor="end">1</text>
<text x="1442.30" y="325.40" font-size="20.6" text-anchor="end">0.98</text>
<text x="1442.30" y="357.20" font-size="20.6" text-anchor="end">0.96</text>
<text x="1442.30" y="389.00" font-size="20.6" text-anchor="end">0.94</text>
<text x="1442.30" y="420.60" font-size="20.6" text-anchor="end">0.92</text>
<rect x="1446.70" y="480.40" width="34.60" height="166.20" fill="url(#cbar)" stroke="#2b2b26" stroke-width="1.3"/>
<path d="M1446.70 480.40h3M1446.70 512.70h3M1446.70 545.30h3M1446.70 578.70h3M1446.70 611.20h3M1446.70 644.00h3" stroke="#2b2b26" stroke-width="1.1"/>
<text x="1443.30" y="488.20" font-size="20.6" text-anchor="end">1.02</text>
<text x="1443.30" y="520.50" font-size="20.6" text-anchor="end">1</text>
<text x="1443.30" y="553.10" font-size="20.6" text-anchor="end">0.98</text>
<text x="1443.30" y="586.50" font-size="20.6" text-anchor="end">0.96</text>
<text x="1443.30" y="619.00" font-size="20.6" text-anchor="end">0.94</text>
<text x="1443.30" y="651.80" font-size="20.6" text-anchor="end">0.92</text>
<text x="133.0" y="27.0" font-size="21" font-style="italic" text-anchor="middle">A</text>
<text x="858.0" y="25.6" font-size="21" font-style="italic" text-anchor="middle">A</text>
<text x="134.0" y="250.5" font-size="21" font-style="italic" text-anchor="middle">A</text>
<text x="270.0" y="250.5" font-size="21" font-style="italic" text-anchor="middle">B</text>
<text x="858.0" y="250.0" font-size="21" font-style="italic" text-anchor="middle">A</text>
<text x="993.0" y="250.0" font-size="21" font-style="italic" text-anchor="middle">B</text>
<text x="134.0" y="474.5" font-size="21" font-style="italic" text-anchor="middle">A</text>
<text x="270.0" y="474.5" font-size="21" font-style="italic" text-anchor="middle">B</text>
<text x="446.0" y="474.5" font-size="21" font-style="italic" text-anchor="middle">C</text>
<text x="858.0" y="474.0" font-size="21" font-style="italic" text-anchor="middle">A</text>
<text x="993.0" y="474.0" font-size="21" font-style="italic" text-anchor="middle">B</text>
<text x="1170.0" y="474.0" font-size="21" font-style="italic" text-anchor="middle">C</text>
<text x="703" y="20.8" font-size="20"><tspan font-style="italic">F</tspan><tspan font-size="14" dy="4">g</tspan><tspan dx="4" dy="-4">(</tspan><tspan font-style="italic">E</tspan><tspan font-style="italic" font-size="14" dy="3">x</tspan><tspan dy="-3">)</tspan></text>
<text x="1438.5" y="20.8" font-size="20"><tspan font-style="italic">F</tspan><tspan font-size="14" dy="4">g</tspan><tspan dx="4" dy="-4">(</tspan><tspan font-style="italic">H</tspan><tspan font-style="italic" font-size="14" dy="3">y</tspan><tspan dy="-3">)</tspan></text>
<g fill="#151515">
<text x="307.5" y="767.3" font-family="'Liberation Sans', 'Noto Sans CJK SC', sans-serif" font-size="25" font-weight="500">图</text>
<text x="333.3" y="767.3" font-family="'Liberation Serif', serif" font-size="24.5" font-weight="bold" textLength="12.4" lengthAdjust="spacingAndGlyphs">5</text>
<text x="345.8" y="767.3" font-family="'Liberation Sans', 'Noto Sans CJK SC', sans-serif" font-size="24.5" font-weight="400" textLength="13" lengthAdjust="spacingAndGlyphs">&#8211;</text>
<text x="358.6" y="767.3" font-family="'Liberation Serif', serif" font-size="24.5" font-weight="bold" textLength="25.4" lengthAdjust="spacingAndGlyphs">10</text>
<text x="408.5" y="767.3" font-family="'Liberation Serif', serif" font-size="25" font-weight="bold" textLength="39" lengthAdjust="spacingAndGlyphs"><tspan font-style="italic">y</tspan>=0</text>
<text x="450.5" y="767.3" font-family="'Liberation Sans', 'Noto Sans CJK SC', sans-serif" font-size="25" font-weight="500" textLength="353" lengthAdjust="spacing">剖面多个低阻异常体归一化场值</text>
<text x="804" y="767.3" font-family="'Liberation Sans', 'Noto Sans CJK SC', sans-serif" font-size="24.5" font-weight="400" textLength="13.5" lengthAdjust="spacingAndGlyphs">&#8211;</text>
<text x="818.5" y="767.3" font-family="'Liberation Sans', 'Noto Sans CJK SC', sans-serif" font-size="25" font-weight="500" textLength="179" lengthAdjust="spacing">频率组合剖面图</text>
<text x="1001.5" y="763.9" font-family="'Liberation Serif', serif" font-size="25" font-weight="300">[</text>
<text x="1010.5" y="767.3" font-family="'Liberation Serif', serif" font-size="25" font-weight="bold" font-style="italic" textLength="18.5" lengthAdjust="spacingAndGlyphs">F</text>
<text x="1027.8" y="771.8" font-family="'Liberation Serif', serif" font-size="15" font-weight="bold">g</text>
<text x="1037.2" y="763.9" font-family="'Liberation Serif', serif" font-size="25">(</text>
<text x="1046.8" y="767.3" font-family="'Liberation Serif', serif" font-size="25" font-weight="bold" font-style="italic" textLength="19.8" lengthAdjust="spacingAndGlyphs">E</text>
<text x="1063.5" y="771.3" font-family="'Liberation Serif', serif" font-size="15" font-weight="bold" font-style="italic">x</text>
<text x="1070.2" y="763.9" font-family="'Liberation Serif', serif" font-size="25">)</text>
<text x="1085.5" y="767.3" font-family="'Liberation Sans', 'Noto Sans CJK SC', sans-serif" font-size="25" font-weight="500">和</text>
<text x="1111.3" y="767.3" font-family="'Liberation Serif', serif" font-size="25" font-weight="bold" font-style="italic" textLength="18.5" lengthAdjust="spacingAndGlyphs">F</text>
<text x="1128.8" y="771.8" font-family="'Liberation Serif', serif" font-size="15" font-weight="bold">g</text>
<text x="1137.5" y="763.9" font-family="'Liberation Serif', serif" font-size="25">(</text>
<text x="1148.3" y="767.3" font-family="'Liberation Serif', serif" font-size="25" font-weight="bold" font-style="italic" textLength="22.3" lengthAdjust="spacingAndGlyphs">H</text>
<text x="1168" y="771.3" font-family="'Liberation Serif', serif" font-size="14.5" font-weight="bold" font-style="italic">y</text>
<text x="1172.6" y="763.9" font-family="'Liberation Serif', serif" font-size="25">)</text>
<text x="1186.8" y="763.9" font-family="'Liberation Serif', serif" font-size="25">]</text>
<text x="752" y="802.3" font-family="'Liberation Sans', 'Noto Sans CJK SC', sans-serif" font-size="25" font-weight="500" text-anchor="middle">（扫章名页二维码查看彩图）</text>
</g>
</svg>

</body></html>
